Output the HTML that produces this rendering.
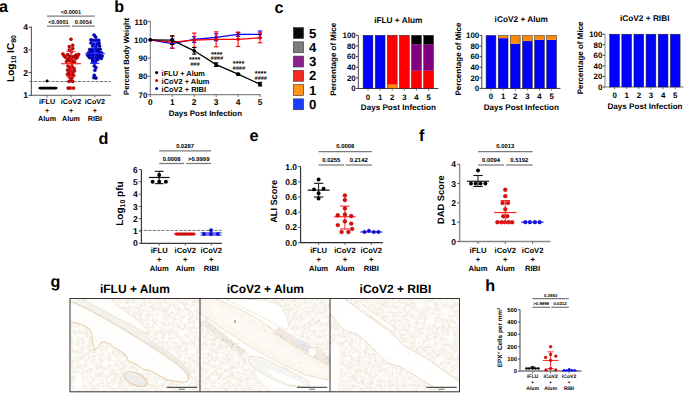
<!DOCTYPE html>
<html><head><meta charset="utf-8"><style>
html,body{margin:0;padding:0;background:#fff;}
body{width:685px;height:393px;overflow:hidden;}
svg{display:block;font-family:"Liberation Sans", sans-serif;text-rendering:geometricPrecision;}
</style></head><body>
<svg width="685" height="393" viewBox="0 0 685 393">
<rect width="685" height="393" fill="#fff"/>
<defs>
<filter id="tex" x="0" y="0" width="100%" height="100%" color-interpolation-filters="sRGB"><feTurbulence type="fractalNoise" baseFrequency="0.45" numOctaves="2" seed="9" result="n"/><feColorMatrix in="n" type="matrix" values="0 0 0 0 0.91  0 0 0 0 0.86  0 0 0 0 0.79  1 0 0 0 0" result="c"/><feComponentTransfer in="c" result="d"><feFuncA type="table" tableValues="0 0 0.12 0.6 0.12 0 0 0"/></feComponentTransfer><feTurbulence type="fractalNoise" baseFrequency="0.26" numOctaves="1" seed="3" result="h"/><feColorMatrix in="h" type="matrix" values="0 0 0 0 1  0 0 0 0 1  0 0 0 0 1  0 1 0 0 0" result="hc"/><feComponentTransfer in="hc" result="holes"><feFuncA type="discrete" tableValues="0 0 0 0.5 0.95 1"/></feComponentTransfer><feFlood flood-color="#fcfaf6" result="bg"/><feMerge result="m"><feMergeNode in="bg"/><feMergeNode in="d"/><feMergeNode in="holes"/></feMerge><feComposite in="m" in2="SourceGraphic" operator="in"/></filter><clipPath id="c1"><rect x="70" y="298.5" width="130" height="93.3"/></clipPath><clipPath id="c2"><rect x="200" y="298.5" width="130" height="93.3"/></clipPath><clipPath id="c3"><rect x="330" y="298.5" width="129.5" height="93.3"/></clipPath></defs>
<g clip-path="url(#c1)">
<rect x="70" y="298.5" width="130" height="93.3" fill="#fefefd"/>
<path d="M111.2,298.5 L116.5,305.0 L131.8,315.2 L141.9,324.1 L148.3,331.7 L148.3,333.6 L151.0,340.0 L162.3,350.0 L175.0,358.5 L183.0,364.0 L189.0,371.0 L191.5,379.0 L190.0,384.0 L186.0,386.0 L192.0,392.0 L200.0,392.0 L200.0,298.5 Z" fill="#fff" filter="url(#tex)"/>
<path d="M70.0,321.0 L77.2,323.5 L83.3,325.0 L89.4,328.8 L91.7,334.2 L92.4,341.8 L94.7,350.2 L98.5,346.4 L100.8,342.6 L104.6,341.8 L110.7,344.9 L115.0,348.0 L124.5,353.7 L129.2,361.5 L135.5,363.9 L143.4,369.4 L151.3,371.0 L159.2,375.7 L167.0,379.7 L175.0,381.3 L181.2,382.0 L186.0,382.0 L180.0,385.5 L184.0,392.0 L70.0,392.0 Z" fill="#fff" filter="url(#tex)"/>
<ellipse cx="182" cy="333" rx="3.5" ry="2.5" fill="#fefefd"/>
<ellipse cx="185" cy="320" rx="2.5" ry="2" fill="#fefefd"/>
<ellipse cx="160" cy="318" rx="2.5" ry="3" fill="#fefefd"/>
<ellipse cx="172" cy="309" rx="2" ry="2" fill="#fefefd"/>
<ellipse cx="150" cy="310" rx="2" ry="1.5" fill="#fefefd"/>
<ellipse cx="78.5" cy="383" rx="4.6" ry="7" fill="#fefefd"/>
<ellipse cx="193" cy="350" rx="3" ry="3.5" fill="#fefefd"/>
<ellipse cx="105" cy="365" rx="2.5" ry="2" fill="#fefefd"/>
<path d="M70.0,301.0 L80.0,305.5 L90.0,310.5 L101.3,316.4 L112.7,322.8 L125.4,330.4 L138.1,338.0 L151.0,346.5 L151.0,341.0 L148.3,333.6 L144.5,332.3 L131.8,325.3 L119.0,319.0 L102.5,310.0 L90.0,303.0 L82.0,298.5 Z" fill="#f5f2ee"/>
<path d="M150.0,342.5 L162.3,350.5 L175.0,359.0 L182.0,364.5 L187.5,371.0 L190.0,378.0" fill="none" stroke="#eeebe7" stroke-width="4.5"/>
<path d="M70.0,301.0 L80.0,305.5 L90.0,310.5 L101.3,316.4 L112.7,322.8 L125.4,330.4 L138.1,338.0 L151.0,346.5 L162.3,354.0 L175.0,362.5 L181.2,367.9 L187.6,374.2 L189.1,378.9 L186.0,382.0" fill="none" stroke="#e3c7a0" stroke-width="0.95"/>
<path d="M148.3,333.6 L144.5,332.3 L131.8,325.3 L119.0,319.0 L102.5,310.0 L90.0,303.0 L82.0,298.5" fill="none" stroke="#ead8bf" stroke-width="0.7"/>
<path d="M111.2,298.5 L116.5,305.0 L131.8,315.2 L141.9,324.1 L148.3,331.7 L148.3,333.6" fill="none" stroke="#ead8bf" stroke-width="0.8"/>
<path d="M70.0,321.0 L77.2,323.5 L83.3,325.0 L89.4,328.8 L91.7,334.2 L92.4,341.8 L94.7,350.2 L98.5,346.4 L100.8,342.6 L104.6,341.8 L110.7,344.9 L115.0,348.0 L124.5,353.7 L129.2,361.5 L135.5,363.9 L143.4,369.4 L151.3,371.0 L159.2,375.7 L167.0,379.7 L175.0,381.3 L181.2,382.0 L186.0,382.0" fill="none" stroke="#e3c7a0" stroke-width="0.95"/>
<ellipse cx="135.5" cy="379" rx="12.3" ry="6" transform="rotate(24 135.5 379)" fill="#efedeb" stroke="#e3c7a0" stroke-width="0.9"/>
</g>
<g clip-path="url(#c2)">
<rect x="200" y="298.5" width="130" height="93.3" fill="#fff"/>
<path d="M262.0,298.5 L330.0,298.5 L330.0,362.0 L319.6,351.0 L305.0,341.0 L292.0,333.0 L289.0,326.0 L286.0,315.0 L279.4,304.6 Z" fill="#fff" filter="url(#tex)"/>
<path d="M200.0,318.0 L210.0,326.0 L230.0,340.0 L250.0,354.0 L262.0,364.0 L255.0,372.0 L262.0,382.0 L272.0,392.0 L200.0,392.0 Z" fill="#fff" filter="url(#tex)"/>
<path d="M200.0,298.5 L215.0,298.5 L240.0,309.0 L258.0,319.0 L272.0,329.0 L286.0,341.0 L305.0,353.0 L330.0,366.0 L330.0,380.4 L305.0,374.9 L277.5,362.1 L252.9,348.3 L230.0,334.0 L210.0,320.0 L200.0,313.0 Z" fill="#fbf6ee"/>
<path d="M214.0,305.0 L236.0,316.0 L256.0,328.0 L276.0,343.0 L300.0,358.0 L328.0,372.0 L328.0,376.0 L300.0,366.0 L272.0,352.0 L250.0,338.0 L228.0,324.0 L210.0,312.0 Z" fill="#fdfaf5"/>
<path d="M232.0,298.5 L265.0,300.0 L279.4,304.6 L286.0,315.0 L289.0,326.0 L287.0,330.0 L279.0,326.0 L262.0,317.0 L242.0,307.0 L226.0,299.5 Z" fill="#fff" stroke="#ead8bf" stroke-width="0.6"/>
<path d="M276.0,330.0 L290.0,338.5 L305.0,347.0 L320.0,356.0 L332.0,363.0" fill="none" stroke="#efe9e2" stroke-width="8"/>
<path d="M203.0,321.0 L216.0,332.0 L230.0,343.0 L244.0,354.0" fill="none" stroke="#f1ebe4" stroke-width="7"/>
<ellipse cx="304" cy="346" rx="9" ry="4.5" transform="rotate(33 304 346)" fill="#e8e7ed"/>
<circle cx="312.3" cy="352" r="4.6" fill="#fff" stroke="#ead8bf" stroke-width="0.6"/>
<path d="M250.0,356.0 L262.0,357.5 L277.5,365.0 L296.0,374.0 L309.0,381.0 L309.0,387.5 L290.0,386.0 L270.0,378.0 L254.0,368.0 L248.0,361.0 Z" fill="#f7f5f3" stroke="#ead8bf" stroke-width="0.7"/>
<path d="M266.0,368.0 L282.0,374.0 L298.0,381.0 L305.0,385.5 L290.0,384.0 L274.0,377.0 Z" fill="#fff"/>
<path d="M215.0,298.5 L240.0,309.0 L258.0,319.0 L272.0,329.0 L286.0,341.0 L305.0,353.0 L330.0,366.0" fill="none" stroke="#ead8bf" stroke-width="0.8"/>
<path d="M330.0,380.4 L305.0,374.9 L277.5,362.1 L252.9,348.3 L230.0,334.0 L210.0,320.0 L200.0,313.0" fill="none" stroke="#ead8bf" stroke-width="0.8"/>
<circle cx="297.6" cy="347.1" r="0.45" fill="#b88a5a" opacity="0.6"/>
<circle cx="222.6" cy="337.1" r="0.45" fill="#b88a5a" opacity="0.6"/>
<circle cx="281.2" cy="334.8" r="0.45" fill="#b88a5a" opacity="0.6"/>
<circle cx="233.5" cy="345.6" r="0.45" fill="#b88a5a" opacity="0.6"/>
<circle cx="277.6" cy="332.0" r="0.45" fill="#b88a5a" opacity="0.6"/>
<circle cx="208.1" cy="326.1" r="0.45" fill="#b88a5a" opacity="0.6"/>
<circle cx="310.0" cy="347.5" r="0.45" fill="#b88a5a" opacity="0.6"/>
<circle cx="203.8" cy="318.0" r="0.45" fill="#b88a5a" opacity="0.6"/>
<circle cx="279.6" cy="329.6" r="0.45" fill="#b88a5a" opacity="0.6"/>
<circle cx="222.1" cy="339.0" r="0.45" fill="#b88a5a" opacity="0.6"/>
<circle cx="302.1" cy="345.7" r="0.45" fill="#b88a5a" opacity="0.6"/>
<circle cx="230.5" cy="341.1" r="0.45" fill="#b88a5a" opacity="0.6"/>
<circle cx="333.3" cy="366.0" r="0.45" fill="#b88a5a" opacity="0.6"/>
<circle cx="231.4" cy="342.2" r="0.45" fill="#b88a5a" opacity="0.6"/>
<circle cx="284.3" cy="339.8" r="0.45" fill="#b88a5a" opacity="0.6"/>
<circle cx="222.2" cy="333.3" r="0.45" fill="#b88a5a" opacity="0.6"/>
<circle cx="329.9" cy="357.0" r="0.45" fill="#b88a5a" opacity="0.6"/>
<circle cx="214.7" cy="327.7" r="0.45" fill="#b88a5a" opacity="0.6"/>
<circle cx="328.1" cy="358.5" r="0.45" fill="#b88a5a" opacity="0.6"/>
<circle cx="231.4" cy="339.9" r="0.45" fill="#b88a5a" opacity="0.6"/>
<circle cx="274.1" cy="334.3" r="0.45" fill="#b88a5a" opacity="0.6"/>
<circle cx="232.2" cy="344.0" r="0.45" fill="#b88a5a" opacity="0.6"/>
<circle cx="273.0" cy="333.3" r="0.45" fill="#b88a5a" opacity="0.6"/>
<circle cx="210.9" cy="326.4" r="0.45" fill="#b88a5a" opacity="0.6"/>
<circle cx="283.1" cy="330.5" r="0.45" fill="#b88a5a" opacity="0.6"/>
<circle cx="227.4" cy="341.6" r="0.45" fill="#b88a5a" opacity="0.6"/>
<circle cx="281.2" cy="338.9" r="0.45" fill="#b88a5a" opacity="0.6"/>
<circle cx="235.4" cy="350.6" r="0.45" fill="#b88a5a" opacity="0.6"/>
<circle cx="281.9" cy="337.8" r="0.45" fill="#b88a5a" opacity="0.6"/>
<circle cx="227.2" cy="346.1" r="0.45" fill="#b88a5a" opacity="0.6"/>
<circle cx="281.1" cy="337.1" r="0.45" fill="#b88a5a" opacity="0.6"/>
<circle cx="215.4" cy="328.4" r="0.45" fill="#b88a5a" opacity="0.6"/>
<circle cx="276.0" cy="327.9" r="0.45" fill="#b88a5a" opacity="0.6"/>
<circle cx="227.4" cy="340.5" r="0.45" fill="#b88a5a" opacity="0.6"/>
<circle cx="327.4" cy="362.2" r="0.45" fill="#b88a5a" opacity="0.6"/>
<circle cx="237.2" cy="346.8" r="0.45" fill="#b88a5a" opacity="0.6"/>
<circle cx="326.7" cy="357.4" r="0.45" fill="#b88a5a" opacity="0.6"/>
<circle cx="212.6" cy="330.8" r="0.45" fill="#b88a5a" opacity="0.6"/>
<circle cx="284.9" cy="337.5" r="0.45" fill="#b88a5a" opacity="0.6"/>
<circle cx="227.8" cy="337.7" r="0.45" fill="#b88a5a" opacity="0.6"/>
<circle cx="275.6" cy="326.0" r="0.45" fill="#b88a5a" opacity="0.6"/>
<circle cx="230.9" cy="346.8" r="0.45" fill="#b88a5a" opacity="0.6"/>
<circle cx="304.3" cy="345.6" r="0.45" fill="#b88a5a" opacity="0.6"/>
<circle cx="230.2" cy="342.6" r="0.45" fill="#b88a5a" opacity="0.6"/>
<circle cx="306.0" cy="348.2" r="0.45" fill="#b88a5a" opacity="0.6"/>
<circle cx="217.7" cy="327.9" r="0.45" fill="#b88a5a" opacity="0.6"/>
<circle cx="269.4" cy="327.1" r="0.45" fill="#b88a5a" opacity="0.6"/>
<circle cx="203.3" cy="321.9" r="0.45" fill="#b88a5a" opacity="0.6"/>
<circle cx="301.8" cy="346.4" r="0.45" fill="#b88a5a" opacity="0.6"/>
<circle cx="243.8" cy="351.7" r="0.45" fill="#b88a5a" opacity="0.6"/>
<circle cx="312.1" cy="348.6" r="0.45" fill="#b88a5a" opacity="0.6"/>
<circle cx="201.1" cy="325.4" r="0.45" fill="#b88a5a" opacity="0.6"/>
<circle cx="315.3" cy="347.9" r="0.45" fill="#b88a5a" opacity="0.6"/>
<circle cx="229.6" cy="343.8" r="0.45" fill="#b88a5a" opacity="0.6"/>
<circle cx="292.6" cy="334.7" r="0.45" fill="#b88a5a" opacity="0.6"/>
<circle cx="227.6" cy="342.2" r="0.45" fill="#b88a5a" opacity="0.6"/>
<circle cx="315.7" cy="356.2" r="0.45" fill="#b88a5a" opacity="0.6"/>
<circle cx="240.4" cy="352.7" r="0.45" fill="#b88a5a" opacity="0.6"/>
<circle cx="326.6" cy="358.7" r="0.45" fill="#b88a5a" opacity="0.6"/>
<circle cx="238.7" cy="347.7" r="0.45" fill="#b88a5a" opacity="0.6"/>
<circle cx="306.7" cy="350.2" r="0.45" fill="#b88a5a" opacity="0.6"/>
<circle cx="225.6" cy="342.2" r="0.45" fill="#b88a5a" opacity="0.6"/>
<circle cx="332.3" cy="364.8" r="0.45" fill="#b88a5a" opacity="0.6"/>
<circle cx="221.0" cy="334.5" r="0.45" fill="#b88a5a" opacity="0.6"/>
<circle cx="298.8" cy="339.1" r="0.45" fill="#b88a5a" opacity="0.6"/>
<circle cx="231.2" cy="346.6" r="0.45" fill="#b88a5a" opacity="0.6"/>
<circle cx="297.0" cy="346.1" r="0.45" fill="#b88a5a" opacity="0.6"/>
<circle cx="224.7" cy="340.8" r="0.45" fill="#b88a5a" opacity="0.6"/>
<circle cx="281.9" cy="334.4" r="0.45" fill="#b88a5a" opacity="0.6"/>
<circle cx="229.4" cy="340.7" r="0.45" fill="#b88a5a" opacity="0.6"/>
<circle cx="325.5" cy="359.1" r="0.45" fill="#b88a5a" opacity="0.6"/>
<circle cx="239.2" cy="351.8" r="0.45" fill="#b88a5a" opacity="0.6"/>
<circle cx="281.4" cy="336.9" r="0.45" fill="#b88a5a" opacity="0.6"/>
<circle cx="244.1" cy="350.2" r="0.45" fill="#b88a5a" opacity="0.6"/>
<circle cx="303.7" cy="344.7" r="0.45" fill="#b88a5a" opacity="0.6"/>
<circle cx="226.2" cy="340.2" r="0.45" fill="#b88a5a" opacity="0.6"/>
<circle cx="315.8" cy="350.6" r="0.45" fill="#b88a5a" opacity="0.6"/>
<circle cx="209.8" cy="324.8" r="0.45" fill="#b88a5a" opacity="0.6"/>
<circle cx="282.2" cy="335.8" r="0.45" fill="#b88a5a" opacity="0.6"/>
<circle cx="222.5" cy="340.0" r="0.45" fill="#b88a5a" opacity="0.6"/>
<circle cx="328.6" cy="358.5" r="0.45" fill="#b88a5a" opacity="0.6"/>
<circle cx="206.9" cy="318.4" r="0.45" fill="#b88a5a" opacity="0.6"/>
<circle cx="313.0" cy="350.8" r="0.45" fill="#b88a5a" opacity="0.6"/>
<circle cx="232.9" cy="344.2" r="0.45" fill="#b88a5a" opacity="0.6"/>
<circle cx="294.0" cy="346.3" r="0.45" fill="#b88a5a" opacity="0.6"/>
<circle cx="210.5" cy="325.2" r="0.45" fill="#b88a5a" opacity="0.6"/>
<circle cx="307.4" cy="350.8" r="0.45" fill="#b88a5a" opacity="0.6"/>
<circle cx="232.7" cy="346.3" r="0.45" fill="#b88a5a" opacity="0.6"/>
<circle cx="309.0" cy="351.4" r="0.45" fill="#b88a5a" opacity="0.6"/>
<circle cx="207.1" cy="326.7" r="0.45" fill="#b88a5a" opacity="0.6"/>
<circle cx="310.6" cy="350.7" r="0.45" fill="#b88a5a" opacity="0.6"/>
<circle cx="218.9" cy="332.6" r="0.45" fill="#b88a5a" opacity="0.6"/>
<circle cx="308.7" cy="348.2" r="0.45" fill="#b88a5a" opacity="0.6"/>
<circle cx="239.1" cy="343.8" r="0.45" fill="#b88a5a" opacity="0.6"/>
<circle cx="327.5" cy="357.2" r="0.45" fill="#b88a5a" opacity="0.6"/>
<circle cx="222.9" cy="339.2" r="0.45" fill="#b88a5a" opacity="0.6"/>
<circle cx="293.1" cy="344.0" r="0.45" fill="#b88a5a" opacity="0.6"/>
<circle cx="239.6" cy="347.0" r="0.45" fill="#b88a5a" opacity="0.6"/>
<circle cx="307.0" cy="352.4" r="0.45" fill="#b88a5a" opacity="0.6"/>
<circle cx="238.4" cy="349.7" r="0.45" fill="#b88a5a" opacity="0.6"/>
<circle cx="285.6" cy="339.0" r="0.45" fill="#b88a5a" opacity="0.6"/>
<circle cx="244.3" cy="355.6" r="0.45" fill="#b88a5a" opacity="0.6"/>
<circle cx="292.1" cy="341.7" r="0.45" fill="#b88a5a" opacity="0.6"/>
<circle cx="214.7" cy="332.0" r="0.45" fill="#b88a5a" opacity="0.6"/>
<circle cx="304.9" cy="346.7" r="0.45" fill="#b88a5a" opacity="0.6"/>
<circle cx="206.4" cy="318.4" r="0.45" fill="#b88a5a" opacity="0.6"/>
<circle cx="315.7" cy="354.3" r="0.45" fill="#b88a5a" opacity="0.6"/>
<circle cx="233.6" cy="344.2" r="0.45" fill="#b88a5a" opacity="0.6"/>
<circle cx="302.6" cy="348.7" r="0.45" fill="#b88a5a" opacity="0.6"/>
<circle cx="235.1" cy="343.7" r="0.45" fill="#b88a5a" opacity="0.6"/>
<circle cx="324.1" cy="358.7" r="0.45" fill="#b88a5a" opacity="0.6"/>
<circle cx="223.7" cy="340.2" r="0.45" fill="#b88a5a" opacity="0.6"/>
<circle cx="308.5" cy="353.1" r="0.45" fill="#b88a5a" opacity="0.6"/>
<circle cx="225.2" cy="338.5" r="0.45" fill="#b88a5a" opacity="0.6"/>
<circle cx="323.5" cy="354.8" r="0.45" fill="#b88a5a" opacity="0.6"/>
<circle cx="242.0" cy="349.3" r="0.45" fill="#b88a5a" opacity="0.6"/>
<circle cx="302.3" cy="348.0" r="0.45" fill="#b88a5a" opacity="0.6"/>
<circle cx="224.9" cy="333.8" r="0.45" fill="#b88a5a" opacity="0.6"/>
<circle cx="328.3" cy="361.0" r="0.45" fill="#b88a5a" opacity="0.6"/>
<circle cx="237.1" cy="347.4" r="0.45" fill="#b88a5a" opacity="0.6"/>
<rect x="234.5" y="320" width="0.9" height="3.2" fill="#9a5a2a"/>
</g>
<g clip-path="url(#c3)">
<rect x="330" y="298.5" width="129.5" height="93.3" fill="#fff"/>
<path d="M344.3,298.5 L459.5,298.5 L459.5,381.7 L442.3,369.8 L425.6,357.8 L404.1,345.8 L389.7,331.5 L365.8,314.7 Z" fill="#fff" filter="url(#tex)"/>
<path d="M330.0,313.0 L339.0,325.0 L346.7,331.5 L356.3,333.9 L365.8,341.0 L387.3,362.6 L401.7,367.4 L420.8,379.3 L435.1,387.7 L442.3,392.0 L330.0,392.0 Z" fill="#fff" filter="url(#tex)"/>
<path d="M330.0,345.0 L336.0,342.0 L340.0,352.0 L339.6,370.0 L338.0,392.0 L330.0,392.0 Z" fill="#fefefd"/>
<ellipse cx="430" cy="322" rx="5" ry="3" fill="#fdfdfc"/>
<ellipse cx="445" cy="312" rx="4" ry="3" fill="#fdfdfc"/>
<ellipse cx="412" cy="330" rx="3" ry="2.5" fill="#fdfdfc"/>
<ellipse cx="450" cy="340" rx="3" ry="4" fill="#fdfdfc"/>
<ellipse cx="420" cy="305" rx="4" ry="2.5" fill="#fdfdfc"/>
<ellipse cx="440" cy="360" rx="4" ry="3" fill="#fdfdfc"/>
<ellipse cx="395" cy="310" rx="3" ry="2" fill="#fdfdfc"/>
<ellipse cx="378" cy="318" rx="2.5" ry="2" fill="#fdfdfc"/>
<path d="M344.3,298.5 L365.8,314.7 L389.7,331.5 L404.1,345.8 L425.6,357.8 L442.3,369.8 L459.5,381.7" fill="none" stroke="#ead8bf" stroke-width="0.9"/>
<path d="M330.0,313.0 L339.0,325.0 L346.7,331.5 L356.3,333.9 L365.8,341.0 L387.3,362.6 L401.7,367.4 L420.8,379.3 L435.1,387.7 L442.3,392.0" fill="none" stroke="#ead8bf" stroke-width="0.9"/>
<path d="M358.7,301.6 L365.8,307.6 L377.8,315.9 L393.3,326.7 L395.7,331.5 L390.9,330.3 L375.4,319.5 L363.5,310.0 L356.3,302.8 Z" fill="#fefefd" stroke="#ead8bf" stroke-width="0.6"/>
</g>
<circle cx="150.5" cy="366.8" r="0.4" fill="#c9a070" opacity="0.7"/>
<circle cx="172.2" cy="384.8" r="0.4" fill="#c9a070" opacity="0.7"/>
<circle cx="165.2" cy="383.0" r="0.4" fill="#c9a070" opacity="0.7"/>
<circle cx="75.7" cy="341.9" r="0.4" fill="#c9a070" opacity="0.7"/>
<circle cx="190.9" cy="358.4" r="0.4" fill="#c9a070" opacity="0.7"/>
<circle cx="185.5" cy="310.2" r="0.4" fill="#c9a070" opacity="0.7"/>
<circle cx="131.1" cy="322.2" r="0.4" fill="#c9a070" opacity="0.7"/>
<circle cx="140.5" cy="351.7" r="0.4" fill="#c9a070" opacity="0.7"/>
<circle cx="73.7" cy="319.5" r="0.4" fill="#c9a070" opacity="0.7"/>
<circle cx="107.2" cy="382.5" r="0.4" fill="#c9a070" opacity="0.7"/>
<circle cx="168.5" cy="314.4" r="0.4" fill="#c9a070" opacity="0.7"/>
<circle cx="172.4" cy="312.5" r="0.4" fill="#c9a070" opacity="0.7"/>
<circle cx="149.8" cy="311.4" r="0.4" fill="#c9a070" opacity="0.7"/>
<circle cx="72.2" cy="378.4" r="0.4" fill="#c9a070" opacity="0.7"/>
<circle cx="98.4" cy="319.4" r="0.4" fill="#c9a070" opacity="0.7"/>
<circle cx="195.8" cy="378.5" r="0.4" fill="#c9a070" opacity="0.7"/>
<circle cx="108.5" cy="386.5" r="0.4" fill="#c9a070" opacity="0.7"/>
<circle cx="139.9" cy="361.0" r="0.4" fill="#c9a070" opacity="0.7"/>
<circle cx="97.8" cy="384.7" r="0.4" fill="#c9a070" opacity="0.7"/>
<circle cx="159.0" cy="387.0" r="0.4" fill="#c9a070" opacity="0.7"/>
<circle cx="184.6" cy="326.9" r="0.4" fill="#c9a070" opacity="0.7"/>
<circle cx="117.5" cy="314.9" r="0.4" fill="#c9a070" opacity="0.7"/>
<circle cx="90.4" cy="305.9" r="0.4" fill="#c9a070" opacity="0.7"/>
<circle cx="110.0" cy="354.3" r="0.4" fill="#c9a070" opacity="0.7"/>
<circle cx="72.4" cy="361.0" r="0.4" fill="#c9a070" opacity="0.7"/>
<circle cx="114.6" cy="327.9" r="0.4" fill="#c9a070" opacity="0.7"/>
<circle cx="175.1" cy="343.3" r="0.4" fill="#c9a070" opacity="0.7"/>
<circle cx="111.8" cy="343.3" r="0.4" fill="#c9a070" opacity="0.7"/>
<circle cx="160.8" cy="305.1" r="0.4" fill="#c9a070" opacity="0.7"/>
<circle cx="194.9" cy="302.1" r="0.4" fill="#c9a070" opacity="0.7"/>
<circle cx="166.5" cy="376.0" r="0.4" fill="#c9a070" opacity="0.7"/>
<circle cx="74.3" cy="370.9" r="0.4" fill="#c9a070" opacity="0.7"/>
<circle cx="118.1" cy="352.1" r="0.4" fill="#c9a070" opacity="0.7"/>
<circle cx="73.1" cy="304.2" r="0.4" fill="#c9a070" opacity="0.7"/>
<circle cx="94.8" cy="386.0" r="0.4" fill="#c9a070" opacity="0.7"/>
<circle cx="96.8" cy="368.0" r="0.4" fill="#c9a070" opacity="0.7"/>
<circle cx="189.1" cy="384.8" r="0.4" fill="#c9a070" opacity="0.7"/>
<circle cx="115.4" cy="331.9" r="0.4" fill="#c9a070" opacity="0.7"/>
<circle cx="138.1" cy="369.8" r="0.4" fill="#c9a070" opacity="0.7"/>
<circle cx="85.6" cy="367.4" r="0.4" fill="#c9a070" opacity="0.7"/>
<circle cx="302.5" cy="377.4" r="0.4" fill="#c9a070" opacity="0.7"/>
<circle cx="206.6" cy="385.1" r="0.4" fill="#c9a070" opacity="0.7"/>
<circle cx="213.5" cy="330.7" r="0.4" fill="#c9a070" opacity="0.7"/>
<circle cx="279.0" cy="382.6" r="0.4" fill="#c9a070" opacity="0.7"/>
<circle cx="244.8" cy="383.2" r="0.4" fill="#c9a070" opacity="0.7"/>
<circle cx="270.7" cy="328.1" r="0.4" fill="#c9a070" opacity="0.7"/>
<circle cx="241.9" cy="316.0" r="0.4" fill="#c9a070" opacity="0.7"/>
<circle cx="211.9" cy="313.4" r="0.4" fill="#c9a070" opacity="0.7"/>
<circle cx="288.8" cy="389.7" r="0.4" fill="#c9a070" opacity="0.7"/>
<circle cx="222.4" cy="304.4" r="0.4" fill="#c9a070" opacity="0.7"/>
<circle cx="326.3" cy="348.0" r="0.4" fill="#c9a070" opacity="0.7"/>
<circle cx="253.1" cy="321.4" r="0.4" fill="#c9a070" opacity="0.7"/>
<circle cx="276.8" cy="374.4" r="0.4" fill="#c9a070" opacity="0.7"/>
<circle cx="259.4" cy="338.0" r="0.4" fill="#c9a070" opacity="0.7"/>
<circle cx="209.0" cy="382.4" r="0.4" fill="#c9a070" opacity="0.7"/>
<circle cx="206.1" cy="344.4" r="0.4" fill="#c9a070" opacity="0.7"/>
<circle cx="307.6" cy="311.8" r="0.4" fill="#c9a070" opacity="0.7"/>
<circle cx="294.2" cy="385.5" r="0.4" fill="#c9a070" opacity="0.7"/>
<circle cx="281.4" cy="370.9" r="0.4" fill="#c9a070" opacity="0.7"/>
<circle cx="215.4" cy="339.1" r="0.4" fill="#c9a070" opacity="0.7"/>
<circle cx="220.8" cy="376.0" r="0.4" fill="#c9a070" opacity="0.7"/>
<circle cx="239.1" cy="340.8" r="0.4" fill="#c9a070" opacity="0.7"/>
<circle cx="327.9" cy="376.7" r="0.4" fill="#c9a070" opacity="0.7"/>
<circle cx="325.0" cy="340.8" r="0.4" fill="#c9a070" opacity="0.7"/>
<circle cx="263.5" cy="365.7" r="0.4" fill="#c9a070" opacity="0.7"/>
<circle cx="262.4" cy="326.2" r="0.4" fill="#c9a070" opacity="0.7"/>
<circle cx="252.9" cy="313.2" r="0.4" fill="#c9a070" opacity="0.7"/>
<circle cx="249.5" cy="389.0" r="0.4" fill="#c9a070" opacity="0.7"/>
<circle cx="322.9" cy="356.4" r="0.4" fill="#c9a070" opacity="0.7"/>
<circle cx="264.9" cy="330.5" r="0.4" fill="#c9a070" opacity="0.7"/>
<circle cx="213.2" cy="324.5" r="0.4" fill="#c9a070" opacity="0.7"/>
<circle cx="300.5" cy="378.1" r="0.4" fill="#c9a070" opacity="0.7"/>
<circle cx="247.5" cy="370.7" r="0.4" fill="#c9a070" opacity="0.7"/>
<circle cx="299.6" cy="362.5" r="0.4" fill="#c9a070" opacity="0.7"/>
<circle cx="285.7" cy="368.4" r="0.4" fill="#c9a070" opacity="0.7"/>
<circle cx="247.8" cy="363.4" r="0.4" fill="#c9a070" opacity="0.7"/>
<circle cx="237.4" cy="343.7" r="0.4" fill="#c9a070" opacity="0.7"/>
<circle cx="299.0" cy="362.2" r="0.4" fill="#c9a070" opacity="0.7"/>
<circle cx="239.0" cy="385.1" r="0.4" fill="#c9a070" opacity="0.7"/>
<circle cx="283.9" cy="352.3" r="0.4" fill="#c9a070" opacity="0.7"/>
<circle cx="333.5" cy="349.2" r="0.4" fill="#c9a070" opacity="0.7"/>
<circle cx="363.5" cy="360.4" r="0.4" fill="#c9a070" opacity="0.7"/>
<circle cx="390.1" cy="373.5" r="0.4" fill="#c9a070" opacity="0.7"/>
<circle cx="413.3" cy="371.8" r="0.4" fill="#c9a070" opacity="0.7"/>
<circle cx="375.7" cy="358.0" r="0.4" fill="#c9a070" opacity="0.7"/>
<circle cx="424.6" cy="374.5" r="0.4" fill="#c9a070" opacity="0.7"/>
<circle cx="375.9" cy="375.9" r="0.4" fill="#c9a070" opacity="0.7"/>
<circle cx="441.2" cy="362.0" r="0.4" fill="#c9a070" opacity="0.7"/>
<circle cx="454.5" cy="386.1" r="0.4" fill="#c9a070" opacity="0.7"/>
<circle cx="397.0" cy="347.6" r="0.4" fill="#c9a070" opacity="0.7"/>
<circle cx="352.9" cy="375.3" r="0.4" fill="#c9a070" opacity="0.7"/>
<circle cx="449.6" cy="343.0" r="0.4" fill="#c9a070" opacity="0.7"/>
<circle cx="418.8" cy="364.8" r="0.4" fill="#c9a070" opacity="0.7"/>
<circle cx="423.7" cy="315.5" r="0.4" fill="#c9a070" opacity="0.7"/>
<circle cx="429.9" cy="352.3" r="0.4" fill="#c9a070" opacity="0.7"/>
<circle cx="415.5" cy="337.9" r="0.4" fill="#c9a070" opacity="0.7"/>
<circle cx="410.3" cy="369.7" r="0.4" fill="#c9a070" opacity="0.7"/>
<circle cx="411.9" cy="364.8" r="0.4" fill="#c9a070" opacity="0.7"/>
<circle cx="335.5" cy="314.4" r="0.4" fill="#c9a070" opacity="0.7"/>
<circle cx="387.4" cy="358.5" r="0.4" fill="#c9a070" opacity="0.7"/>
<circle cx="359.5" cy="361.7" r="0.4" fill="#c9a070" opacity="0.7"/>
<circle cx="411.2" cy="303.8" r="0.4" fill="#c9a070" opacity="0.7"/>
<circle cx="391.2" cy="320.4" r="0.4" fill="#c9a070" opacity="0.7"/>
<circle cx="338.8" cy="312.0" r="0.4" fill="#c9a070" opacity="0.7"/>
<circle cx="371.8" cy="316.3" r="0.4" fill="#c9a070" opacity="0.7"/>
<circle cx="356.3" cy="303.2" r="0.4" fill="#c9a070" opacity="0.7"/>
<circle cx="390.4" cy="334.2" r="0.4" fill="#c9a070" opacity="0.7"/>
<circle cx="408.8" cy="353.1" r="0.4" fill="#c9a070" opacity="0.7"/>
<circle cx="361.8" cy="381.3" r="0.4" fill="#c9a070" opacity="0.7"/>
<circle cx="332.1" cy="336.5" r="0.4" fill="#c9a070" opacity="0.7"/>
<circle cx="367.0" cy="336.9" r="0.4" fill="#c9a070" opacity="0.7"/>
<circle cx="346.4" cy="374.8" r="0.4" fill="#c9a070" opacity="0.7"/>
<circle cx="378.9" cy="303.2" r="0.4" fill="#c9a070" opacity="0.7"/>
<circle cx="409.0" cy="308.5" r="0.4" fill="#c9a070" opacity="0.7"/>
<circle cx="400.4" cy="330.5" r="0.4" fill="#c9a070" opacity="0.7"/>
<circle cx="404.9" cy="386.2" r="0.4" fill="#c9a070" opacity="0.7"/>
<circle cx="434.7" cy="337.7" r="0.4" fill="#c9a070" opacity="0.7"/>
<circle cx="434.0" cy="357.8" r="0.4" fill="#c9a070" opacity="0.7"/>
<circle cx="378.4" cy="312.8" r="0.4" fill="#c9a070" opacity="0.7"/>
<circle cx="406.8" cy="350.7" r="0.4" fill="#c9a070" opacity="0.7"/>
<rect x="70" y="298.5" width="389.5" height="93.3" fill="none" stroke="#333" stroke-width="1"/>
<line x1="200" y1="298.5" x2="200" y2="391.8" stroke="#333" stroke-width="1"/>
<line x1="330" y1="298.5" x2="330" y2="391.8" stroke="#333" stroke-width="1"/>
<line x1="166.8" y1="387.3" x2="197.3" y2="387.3" stroke="#111" stroke-width="0.9"/>
<rect x="179.05" y="388.6" width="6" height="1.2" fill="#888"/>
<line x1="297" y1="387.3" x2="327.3" y2="387.3" stroke="#111" stroke-width="0.9"/>
<rect x="309.15" y="388.6" width="6" height="1.2" fill="#888"/>
<line x1="426.5" y1="387.3" x2="456.8" y2="387.3" stroke="#111" stroke-width="0.9"/>
<rect x="438.65" y="388.6" width="6" height="1.2" fill="#888"/>
<text x="-1" y="12.1" font-size="16.2" text-anchor="start" fill="#000" font-weight="bold">a</text>
<text x="114.3" y="12.1" font-size="16.2" text-anchor="start" fill="#000" font-weight="bold">b</text>
<text x="274.5" y="12.8" font-size="16.2" text-anchor="start" fill="#000" font-weight="bold">c</text>
<text x="98.4" y="144" font-size="16.2" text-anchor="start" fill="#000" font-weight="bold">d</text>
<text x="249.6" y="140.9" font-size="16.2" text-anchor="start" fill="#000" font-weight="bold">e</text>
<text x="418.9" y="140.9" font-size="16.2" text-anchor="start" fill="#000" font-weight="bold">f</text>
<text x="50.6" y="287" font-size="16.2" text-anchor="start" fill="#000" font-weight="bold">g</text>
<text x="485.2" y="290.6" font-size="16.2" text-anchor="start" fill="#000" font-weight="bold">h</text>
<line x1="31.4" y1="26.6" x2="31.4" y2="95.8" stroke="#5a5a5a" stroke-width="1.1"/>
<line x1="30.9" y1="95.2" x2="111.1" y2="95.2" stroke="#5a5a5a" stroke-width="1.1"/>
<line x1="28.6" y1="95.3" x2="31.4" y2="95.3" stroke="#444" stroke-width="1"/>
<text x="28" y="98.3" font-size="8.5" text-anchor="end" fill="#000" font-weight="bold">1</text>
<line x1="28.6" y1="72.6" x2="31.4" y2="72.6" stroke="#444" stroke-width="1"/>
<text x="28" y="75.6" font-size="8.5" text-anchor="end" fill="#000" font-weight="bold">2</text>
<line x1="28.6" y1="49.9" x2="31.4" y2="49.9" stroke="#444" stroke-width="1"/>
<text x="28" y="52.9" font-size="8.5" text-anchor="end" fill="#000" font-weight="bold">3</text>
<line x1="28.6" y1="27.2" x2="31.4" y2="27.2" stroke="#444" stroke-width="1"/>
<text x="28" y="30.2" font-size="8.5" text-anchor="end" fill="#000" font-weight="bold">4</text>
<line x1="47" y1="95.2" x2="47" y2="97.6" stroke="#555" stroke-width="0.9"/>
<line x1="71" y1="95.2" x2="71" y2="97.6" stroke="#555" stroke-width="0.9"/>
<line x1="94.8" y1="95.2" x2="94.8" y2="97.6" stroke="#555" stroke-width="0.9"/>
<line x1="29.5" y1="81.5" x2="111" y2="81.5" stroke="#555" stroke-width="0.8" stroke-dasharray="3.2 1.2"/>
<text x="0" y="0" font-size="10.1" font-weight="bold" text-anchor="middle" transform="translate(14.0 58.5) rotate(-90)">Log<tspan font-size="7.0" dy="1.7">10</tspan><tspan dy="-1.7"> IC</tspan><tspan font-size="7.0" dy="1.7">80</tspan></text>
<text x="47.1" y="104.3" font-size="7.2" text-anchor="middle" fill="#000" font-weight="bold">iFLU</text>
<text x="47.1" y="112.6" font-size="7.2" text-anchor="middle" fill="#000" font-weight="bold">+</text>
<text x="47.1" y="120.6" font-size="7.2" text-anchor="middle" fill="#000" font-weight="bold">Alum</text>
<text x="71" y="104.3" font-size="7.2" text-anchor="middle" fill="#000" font-weight="bold">iCoV2</text>
<text x="71" y="112.6" font-size="7.2" text-anchor="middle" fill="#000" font-weight="bold">+</text>
<text x="71" y="120.6" font-size="7.2" text-anchor="middle" fill="#000" font-weight="bold">Alum</text>
<text x="94.9" y="104.3" font-size="7.2" text-anchor="middle" fill="#000" font-weight="bold">iCoV2</text>
<text x="94.9" y="112.6" font-size="7.2" text-anchor="middle" fill="#000" font-weight="bold">+</text>
<text x="94.9" y="120.6" font-size="7.2" text-anchor="middle" fill="#000" font-weight="bold">RIBI</text>
<line x1="40" y1="88.1" x2="56" y2="88.1" stroke="#000" stroke-width="2.7" stroke-linecap="round"/>
<line x1="38.4" y1="88.1" x2="57.4" y2="88.1" stroke="#000" stroke-width="1"/>
<circle cx="47.1" cy="81" r="1.45" fill="#000" stroke="none" stroke-width="0"/>
<circle cx="71" cy="39.2" r="1.55" fill="#dd0000" stroke="#7a0000" stroke-width="0.5"/>
<circle cx="72.7" cy="45.3" r="1.55" fill="#dd0000" stroke="#7a0000" stroke-width="0.5"/>
<circle cx="69.3" cy="46.6" r="1.55" fill="#dd0000" stroke="#7a0000" stroke-width="0.5"/>
<circle cx="72.7" cy="48.5" r="1.55" fill="#dd0000" stroke="#7a0000" stroke-width="0.5"/>
<circle cx="69.3" cy="50" r="1.55" fill="#dd0000" stroke="#7a0000" stroke-width="0.5"/>
<circle cx="71.4" cy="51.9" r="1.55" fill="#dd0000" stroke="#7a0000" stroke-width="0.5"/>
<circle cx="67.5" cy="54.6" r="1.55" fill="#dd0000" stroke="#7a0000" stroke-width="0.5"/>
<circle cx="75.9" cy="55" r="1.55" fill="#dd0000" stroke="#7a0000" stroke-width="0.5"/>
<circle cx="64.1" cy="55.8" r="1.55" fill="#dd0000" stroke="#7a0000" stroke-width="0.5"/>
<circle cx="65.6" cy="57.3" r="1.55" fill="#dd0000" stroke="#7a0000" stroke-width="0.5"/>
<circle cx="69.5" cy="56.1" r="1.55" fill="#dd0000" stroke="#7a0000" stroke-width="0.5"/>
<circle cx="72.1" cy="56.5" r="1.55" fill="#dd0000" stroke="#7a0000" stroke-width="0.5"/>
<circle cx="74" cy="56.9" r="1.55" fill="#dd0000" stroke="#7a0000" stroke-width="0.5"/>
<circle cx="77.5" cy="56.9" r="1.55" fill="#dd0000" stroke="#7a0000" stroke-width="0.5"/>
<circle cx="75.9" cy="58.4" r="1.55" fill="#dd0000" stroke="#7a0000" stroke-width="0.5"/>
<circle cx="67.9" cy="59.2" r="1.55" fill="#dd0000" stroke="#7a0000" stroke-width="0.5"/>
<circle cx="70.2" cy="58.4" r="1.55" fill="#dd0000" stroke="#7a0000" stroke-width="0.5"/>
<circle cx="69.5" cy="60.9" r="1.55" fill="#dd0000" stroke="#7a0000" stroke-width="0.5"/>
<circle cx="72.1" cy="60" r="1.55" fill="#dd0000" stroke="#7a0000" stroke-width="0.5"/>
<circle cx="72.1" cy="63" r="1.55" fill="#dd0000" stroke="#7a0000" stroke-width="0.5"/>
<circle cx="66.5" cy="61.5" r="1.55" fill="#dd0000" stroke="#7a0000" stroke-width="0.5"/>
<circle cx="74.5" cy="61.8" r="1.55" fill="#dd0000" stroke="#7a0000" stroke-width="0.5"/>
<circle cx="78.6" cy="54.4" r="1.55" fill="#dd0000" stroke="#7a0000" stroke-width="0.5"/>
<circle cx="62.9" cy="54" r="1.55" fill="#dd0000" stroke="#7a0000" stroke-width="0.5"/>
<circle cx="68" cy="66" r="1.55" fill="#dd0000" stroke="#7a0000" stroke-width="0.5"/>
<circle cx="72" cy="66.5" r="1.55" fill="#dd0000" stroke="#7a0000" stroke-width="0.5"/>
<circle cx="70" cy="68" r="1.55" fill="#dd0000" stroke="#7a0000" stroke-width="0.5"/>
<circle cx="74" cy="68.5" r="1.55" fill="#dd0000" stroke="#7a0000" stroke-width="0.5"/>
<circle cx="67.5" cy="70" r="1.55" fill="#dd0000" stroke="#7a0000" stroke-width="0.5"/>
<circle cx="71" cy="70.5" r="1.55" fill="#dd0000" stroke="#7a0000" stroke-width="0.5"/>
<circle cx="74.5" cy="71" r="1.55" fill="#dd0000" stroke="#7a0000" stroke-width="0.5"/>
<circle cx="69" cy="72.5" r="1.55" fill="#dd0000" stroke="#7a0000" stroke-width="0.5"/>
<circle cx="72.5" cy="73" r="1.55" fill="#dd0000" stroke="#7a0000" stroke-width="0.5"/>
<circle cx="67.5" cy="74.2" r="1.55" fill="#dd0000" stroke="#7a0000" stroke-width="0.5"/>
<circle cx="70.5" cy="75" r="1.55" fill="#dd0000" stroke="#7a0000" stroke-width="0.5"/>
<circle cx="73.5" cy="75.2" r="1.55" fill="#dd0000" stroke="#7a0000" stroke-width="0.5"/>
<circle cx="69.5" cy="77" r="1.55" fill="#dd0000" stroke="#7a0000" stroke-width="0.5"/>
<circle cx="72" cy="77.6" r="1.55" fill="#dd0000" stroke="#7a0000" stroke-width="0.5"/>
<circle cx="71" cy="79.9" r="1.55" fill="#dd0000" stroke="#7a0000" stroke-width="0.5"/>
<circle cx="69" cy="81.4" r="1.55" fill="#dd0000" stroke="#7a0000" stroke-width="0.5"/>
<circle cx="72.7" cy="81.4" r="1.55" fill="#dd0000" stroke="#7a0000" stroke-width="0.5"/>
<circle cx="68.2" cy="88.1" r="1.55" fill="#dd0000" stroke="#7a0000" stroke-width="0.5"/>
<circle cx="70.2" cy="88.1" r="1.55" fill="#dd0000" stroke="#7a0000" stroke-width="0.5"/>
<circle cx="73.5" cy="88.1" r="1.55" fill="#dd0000" stroke="#7a0000" stroke-width="0.5"/>
<line x1="61.2" y1="63.7" x2="80.9" y2="63.7" stroke="#ff2020" stroke-width="1.2"/>
<line x1="71" y1="51.4" x2="71" y2="76.6" stroke="#ff2020" stroke-width="1"/>
<line x1="66.5" y1="51.4" x2="75.3" y2="51.4" stroke="#ff3030" stroke-width="1.1"/>
<line x1="66.5" y1="76.6" x2="75.4" y2="76.6" stroke="#ff2020" stroke-width="1.1"/>
<circle cx="94.1" cy="35.1" r="1.55" fill="#0000dd" stroke="#00006a" stroke-width="0.5"/>
<circle cx="95.7" cy="37.1" r="1.55" fill="#0000dd" stroke="#00006a" stroke-width="0.5"/>
<circle cx="91" cy="39.8" r="1.55" fill="#0000dd" stroke="#00006a" stroke-width="0.5"/>
<circle cx="93.3" cy="40.4" r="1.55" fill="#0000dd" stroke="#00006a" stroke-width="0.5"/>
<circle cx="96.3" cy="40.4" r="1.55" fill="#0000dd" stroke="#00006a" stroke-width="0.5"/>
<circle cx="98.7" cy="40.2" r="1.55" fill="#0000dd" stroke="#00006a" stroke-width="0.5"/>
<circle cx="91" cy="43" r="1.55" fill="#0000dd" stroke="#00006a" stroke-width="0.5"/>
<circle cx="93.8" cy="44.3" r="1.55" fill="#0000dd" stroke="#00006a" stroke-width="0.5"/>
<circle cx="97.1" cy="43.9" r="1.55" fill="#0000dd" stroke="#00006a" stroke-width="0.5"/>
<circle cx="99.1" cy="43.2" r="1.55" fill="#0000dd" stroke="#00006a" stroke-width="0.5"/>
<circle cx="92.6" cy="46.1" r="1.55" fill="#0000dd" stroke="#00006a" stroke-width="0.5"/>
<circle cx="99.5" cy="46.1" r="1.55" fill="#0000dd" stroke="#00006a" stroke-width="0.5"/>
<circle cx="95.9" cy="46.7" r="1.55" fill="#0000dd" stroke="#00006a" stroke-width="0.5"/>
<circle cx="89.7" cy="49.6" r="1.55" fill="#0000dd" stroke="#00006a" stroke-width="0.5"/>
<circle cx="92.2" cy="49.6" r="1.55" fill="#0000dd" stroke="#00006a" stroke-width="0.5"/>
<circle cx="95" cy="49.2" r="1.55" fill="#0000dd" stroke="#00006a" stroke-width="0.5"/>
<circle cx="97.9" cy="49.6" r="1.55" fill="#0000dd" stroke="#00006a" stroke-width="0.5"/>
<circle cx="100.2" cy="49.2" r="1.55" fill="#0000dd" stroke="#00006a" stroke-width="0.5"/>
<circle cx="91" cy="51.8" r="1.55" fill="#0000dd" stroke="#00006a" stroke-width="0.5"/>
<circle cx="93.4" cy="52.2" r="1.55" fill="#0000dd" stroke="#00006a" stroke-width="0.5"/>
<circle cx="96.7" cy="51.2" r="1.55" fill="#0000dd" stroke="#00006a" stroke-width="0.5"/>
<circle cx="99.1" cy="52.2" r="1.55" fill="#0000dd" stroke="#00006a" stroke-width="0.5"/>
<circle cx="87.7" cy="55.3" r="1.55" fill="#0000dd" stroke="#00006a" stroke-width="0.5"/>
<circle cx="90.1" cy="54.9" r="1.55" fill="#0000dd" stroke="#00006a" stroke-width="0.5"/>
<circle cx="92.6" cy="54.4" r="1.55" fill="#0000dd" stroke="#00006a" stroke-width="0.5"/>
<circle cx="95" cy="55.3" r="1.55" fill="#0000dd" stroke="#00006a" stroke-width="0.5"/>
<circle cx="97.5" cy="54.9" r="1.55" fill="#0000dd" stroke="#00006a" stroke-width="0.5"/>
<circle cx="99.9" cy="55.3" r="1.55" fill="#0000dd" stroke="#00006a" stroke-width="0.5"/>
<circle cx="102.2" cy="56.1" r="1.55" fill="#0000dd" stroke="#00006a" stroke-width="0.5"/>
<circle cx="89.3" cy="57.5" r="1.55" fill="#0000dd" stroke="#00006a" stroke-width="0.5"/>
<circle cx="91.8" cy="57.9" r="1.55" fill="#0000dd" stroke="#00006a" stroke-width="0.5"/>
<circle cx="94.2" cy="57.3" r="1.55" fill="#0000dd" stroke="#00006a" stroke-width="0.5"/>
<circle cx="96.7" cy="57.9" r="1.55" fill="#0000dd" stroke="#00006a" stroke-width="0.5"/>
<circle cx="99.1" cy="57.3" r="1.55" fill="#0000dd" stroke="#00006a" stroke-width="0.5"/>
<circle cx="101.2" cy="58.4" r="1.55" fill="#0000dd" stroke="#00006a" stroke-width="0.5"/>
<circle cx="88.5" cy="52.9" r="1.55" fill="#0000dd" stroke="#00006a" stroke-width="0.5"/>
<circle cx="101.5" cy="52.8" r="1.55" fill="#0000dd" stroke="#00006a" stroke-width="0.5"/>
<circle cx="92.6" cy="60.2" r="1.55" fill="#0000dd" stroke="#00006a" stroke-width="0.5"/>
<circle cx="95.3" cy="60.6" r="1.55" fill="#0000dd" stroke="#00006a" stroke-width="0.5"/>
<circle cx="97.8" cy="59.6" r="1.55" fill="#0000dd" stroke="#00006a" stroke-width="0.5"/>
<circle cx="93" cy="62.2" r="1.55" fill="#0000dd" stroke="#00006a" stroke-width="0.5"/>
<circle cx="95.4" cy="62.6" r="1.55" fill="#0000dd" stroke="#00006a" stroke-width="0.5"/>
<circle cx="94.3" cy="65.9" r="1.55" fill="#0000dd" stroke="#00006a" stroke-width="0.5"/>
<circle cx="95.9" cy="67.5" r="1.55" fill="#0000dd" stroke="#00006a" stroke-width="0.5"/>
<circle cx="94.9" cy="70.3" r="1.55" fill="#0000dd" stroke="#00006a" stroke-width="0.5"/>
<circle cx="94.3" cy="75.2" r="1.55" fill="#0000dd" stroke="#00006a" stroke-width="0.5"/>
<circle cx="93.9" cy="77.6" r="1.55" fill="#0000dd" stroke="#00006a" stroke-width="0.5"/>
<circle cx="95.9" cy="78" r="1.55" fill="#0000dd" stroke="#00006a" stroke-width="0.5"/>
<line x1="85.3" y1="53.5" x2="104.8" y2="53.5" stroke="#2a2aff" stroke-width="1.2"/>
<line x1="94.8" y1="42.2" x2="94.8" y2="63.3" stroke="#2a2aff" stroke-width="1"/>
<line x1="92" y1="42.2" x2="97.4" y2="42.2" stroke="#3a3aff" stroke-width="1.1"/>
<line x1="90" y1="63.3" x2="99.4" y2="63.3" stroke="#2a2aff" stroke-width="1.1"/>
<line x1="47" y1="16.2" x2="94.8" y2="16.2" stroke="#7c7c7c" stroke-width="1.25"/>
<text x="70.9" y="13.6" font-size="5.6" text-anchor="middle" fill="#000" font-weight="bold">&lt;0.0001</text>
<line x1="47" y1="26.1" x2="70" y2="26.1" stroke="#7c7c7c" stroke-width="1.25"/>
<text x="58.5" y="23.6" font-size="5.6" text-anchor="middle" fill="#000" font-weight="bold">&lt;0.0001</text>
<line x1="72" y1="26.1" x2="94.8" y2="26.1" stroke="#7c7c7c" stroke-width="1.25"/>
<text x="83.4" y="23.6" font-size="5.6" text-anchor="middle" fill="#000" font-weight="bold">0.0054</text>
<line x1="150.3" y1="20.6" x2="150.3" y2="95.1" stroke="#858585" stroke-width="1.05"/>
<line x1="149.8" y1="94.6" x2="260.6" y2="94.6" stroke="#858585" stroke-width="1.05"/>
<line x1="147.8" y1="94.6" x2="150.3" y2="94.6" stroke="#666" stroke-width="1"/>
<text x="147.4" y="97.5" font-size="8" text-anchor="end" fill="#000" font-weight="bold">70</text>
<line x1="147.8" y1="76.35" x2="150.3" y2="76.35" stroke="#666" stroke-width="1"/>
<text x="147.4" y="79.25" font-size="8" text-anchor="end" fill="#000" font-weight="bold">80</text>
<line x1="147.8" y1="58.1" x2="150.3" y2="58.1" stroke="#666" stroke-width="1"/>
<text x="147.4" y="61" font-size="8" text-anchor="end" fill="#000" font-weight="bold">90</text>
<line x1="147.8" y1="39.85" x2="150.3" y2="39.85" stroke="#666" stroke-width="1"/>
<text x="147.4" y="42.75" font-size="8" text-anchor="end" fill="#000" font-weight="bold">100</text>
<line x1="147.8" y1="21.6" x2="150.3" y2="21.6" stroke="#666" stroke-width="1"/>
<text x="147.4" y="24.5" font-size="8" text-anchor="end" fill="#000" font-weight="bold">110</text>
<line x1="150.3" y1="94.6" x2="150.3" y2="97" stroke="#666" stroke-width="0.9"/>
<text x="150.3" y="105" font-size="8.4" text-anchor="middle" fill="#000" font-weight="bold">0</text>
<line x1="172.25" y1="94.6" x2="172.25" y2="97" stroke="#666" stroke-width="0.9"/>
<text x="172.25" y="105" font-size="8.4" text-anchor="middle" fill="#000" font-weight="bold">1</text>
<line x1="194.2" y1="94.6" x2="194.2" y2="97" stroke="#666" stroke-width="0.9"/>
<text x="194.2" y="105" font-size="8.4" text-anchor="middle" fill="#000" font-weight="bold">2</text>
<line x1="216.15" y1="94.6" x2="216.15" y2="97" stroke="#666" stroke-width="0.9"/>
<text x="216.15" y="105" font-size="8.4" text-anchor="middle" fill="#000" font-weight="bold">3</text>
<line x1="238.1" y1="94.6" x2="238.1" y2="97" stroke="#666" stroke-width="0.9"/>
<text x="238.1" y="105" font-size="8.4" text-anchor="middle" fill="#000" font-weight="bold">4</text>
<line x1="260.05" y1="94.6" x2="260.05" y2="97" stroke="#666" stroke-width="0.9"/>
<text x="260.05" y="105" font-size="8.4" text-anchor="middle" fill="#000" font-weight="bold">5</text>
<text x="205.4" y="115.6" font-size="7.9" text-anchor="middle" fill="#000" font-weight="bold">Days Post Infection</text>
<text x="129.2" y="56.4" font-size="7.7" text-anchor="middle" fill="#000" font-weight="bold" transform="rotate(-90 129.2 56.4)">Percent Body Weight</text>
<polyline points="150.3,39.85 172.25,43.68 194.2,39.48 216.15,37.29 238.1,34.37 260.05,34.37" fill="none" stroke="#00f" stroke-width="1.3"/>
<circle cx="150.3" cy="39.85" r="1.7" fill="#00c" stroke="none" stroke-width="0"/>
<line x1="172.25" y1="39.12" x2="172.25" y2="48.24" stroke="#00f" stroke-width="1"/>
<line x1="170.05" y1="39.12" x2="174.45" y2="39.12" stroke="#00f" stroke-width="1.1"/>
<line x1="170.05" y1="48.24" x2="174.45" y2="48.24" stroke="#00f" stroke-width="1.1"/>
<circle cx="172.25" cy="43.68" r="1.7" fill="#00c" stroke="none" stroke-width="0"/>
<line x1="194.2" y1="36.66" x2="194.2" y2="42.31" stroke="#00f" stroke-width="1"/>
<line x1="192" y1="36.66" x2="196.4" y2="36.66" stroke="#00f" stroke-width="1.1"/>
<line x1="192" y1="42.31" x2="196.4" y2="42.31" stroke="#00f" stroke-width="1.1"/>
<circle cx="194.2" cy="39.48" r="1.7" fill="#00c" stroke="none" stroke-width="0"/>
<line x1="216.15" y1="33.83" x2="216.15" y2="40.76" stroke="#00f" stroke-width="1"/>
<line x1="213.95" y1="33.83" x2="218.35" y2="33.83" stroke="#00f" stroke-width="1.1"/>
<line x1="213.95" y1="40.76" x2="218.35" y2="40.76" stroke="#00f" stroke-width="1.1"/>
<circle cx="216.15" cy="37.29" r="1.7" fill="#00c" stroke="none" stroke-width="0"/>
<line x1="238.1" y1="32.37" x2="238.1" y2="36.38" stroke="#00f" stroke-width="1"/>
<line x1="235.9" y1="32.37" x2="240.3" y2="32.37" stroke="#00f" stroke-width="1.1"/>
<line x1="235.9" y1="36.38" x2="240.3" y2="36.38" stroke="#00f" stroke-width="1.1"/>
<circle cx="238.1" cy="34.37" r="1.7" fill="#00c" stroke="none" stroke-width="0"/>
<line x1="260.05" y1="31" x2="260.05" y2="37.75" stroke="#00f" stroke-width="1"/>
<line x1="257.85" y1="31" x2="262.25" y2="31" stroke="#00f" stroke-width="1.1"/>
<line x1="257.85" y1="37.75" x2="262.25" y2="37.75" stroke="#00f" stroke-width="1.1"/>
<circle cx="260.05" cy="34.37" r="1.7" fill="#00c" stroke="none" stroke-width="0"/>
<polyline points="150.3,39.85 172.25,42.04 194.2,40.22 216.15,39.3 238.1,39.3 260.05,37.84" fill="none" stroke="#f00" stroke-width="1.3"/>
<circle cx="150.3" cy="39.85" r="1.7" fill="#d00" stroke="none" stroke-width="0"/>
<line x1="172.25" y1="35.83" x2="172.25" y2="48.25" stroke="#f00" stroke-width="1"/>
<line x1="170.05" y1="35.83" x2="174.45" y2="35.83" stroke="#f00" stroke-width="1.1"/>
<line x1="170.05" y1="48.25" x2="174.45" y2="48.25" stroke="#f00" stroke-width="1.1"/>
<circle cx="172.25" cy="42.04" r="1.7" fill="#d00" stroke="none" stroke-width="0"/>
<line x1="194.2" y1="33.1" x2="194.2" y2="47.33" stroke="#f00" stroke-width="1"/>
<line x1="192" y1="33.1" x2="196.4" y2="33.1" stroke="#f00" stroke-width="1.1"/>
<line x1="192" y1="47.33" x2="196.4" y2="47.33" stroke="#f00" stroke-width="1.1"/>
<circle cx="194.2" cy="40.22" r="1.7" fill="#d00" stroke="none" stroke-width="0"/>
<line x1="216.15" y1="31.82" x2="216.15" y2="46.78" stroke="#f00" stroke-width="1"/>
<line x1="213.95" y1="31.82" x2="218.35" y2="31.82" stroke="#f00" stroke-width="1.1"/>
<line x1="213.95" y1="46.78" x2="218.35" y2="46.78" stroke="#f00" stroke-width="1.1"/>
<circle cx="216.15" cy="39.3" r="1.7" fill="#d00" stroke="none" stroke-width="0"/>
<line x1="238.1" y1="32.18" x2="238.1" y2="46.42" stroke="#f00" stroke-width="1"/>
<line x1="235.9" y1="32.18" x2="240.3" y2="32.18" stroke="#f00" stroke-width="1.1"/>
<line x1="235.9" y1="46.42" x2="240.3" y2="46.42" stroke="#f00" stroke-width="1.1"/>
<circle cx="238.1" cy="39.3" r="1.7" fill="#d00" stroke="none" stroke-width="0"/>
<line x1="260.05" y1="32.91" x2="260.05" y2="42.77" stroke="#f00" stroke-width="1"/>
<line x1="257.85" y1="32.91" x2="262.25" y2="32.91" stroke="#f00" stroke-width="1.1"/>
<line x1="257.85" y1="42.77" x2="262.25" y2="42.77" stroke="#f00" stroke-width="1.1"/>
<circle cx="260.05" cy="37.84" r="1.7" fill="#d00" stroke="none" stroke-width="0"/>
<polyline points="150.3,39.85 172.25,40.22 194.2,50.8 216.15,64.67 238.1,74.16 260.05,84.2" fill="none" stroke="#000" stroke-width="1.3"/>
<circle cx="150.3" cy="39.85" r="1.85" fill="#000" stroke="none" stroke-width="0"/>
<line x1="172.25" y1="36.02" x2="172.25" y2="44.41" stroke="#000" stroke-width="1"/>
<line x1="170.05" y1="36.02" x2="174.45" y2="36.02" stroke="#000" stroke-width="1.1"/>
<line x1="170.05" y1="44.41" x2="174.45" y2="44.41" stroke="#000" stroke-width="1.1"/>
<circle cx="172.25" cy="40.22" r="1.85" fill="#000" stroke="none" stroke-width="0"/>
<line x1="194.2" y1="47.52" x2="194.2" y2="54.08" stroke="#000" stroke-width="1"/>
<line x1="192" y1="47.52" x2="196.4" y2="47.52" stroke="#000" stroke-width="1.1"/>
<line x1="192" y1="54.08" x2="196.4" y2="54.08" stroke="#000" stroke-width="1.1"/>
<circle cx="194.2" cy="50.8" r="1.85" fill="#000" stroke="none" stroke-width="0"/>
<line x1="216.15" y1="62.84" x2="216.15" y2="66.49" stroke="#000" stroke-width="1"/>
<line x1="213.95" y1="62.84" x2="218.35" y2="62.84" stroke="#000" stroke-width="1.1"/>
<line x1="213.95" y1="66.49" x2="218.35" y2="66.49" stroke="#000" stroke-width="1.1"/>
<circle cx="216.15" cy="64.67" r="1.85" fill="#000" stroke="none" stroke-width="0"/>
<line x1="238.1" y1="73.25" x2="238.1" y2="75.07" stroke="#000" stroke-width="1"/>
<line x1="235.9" y1="73.25" x2="240.3" y2="73.25" stroke="#000" stroke-width="1.1"/>
<line x1="235.9" y1="75.07" x2="240.3" y2="75.07" stroke="#000" stroke-width="1.1"/>
<circle cx="238.1" cy="74.16" r="1.85" fill="#000" stroke="none" stroke-width="0"/>
<line x1="260.05" y1="82.37" x2="260.05" y2="86.02" stroke="#000" stroke-width="1"/>
<line x1="257.85" y1="82.37" x2="262.25" y2="82.37" stroke="#000" stroke-width="1.1"/>
<line x1="257.85" y1="86.02" x2="262.25" y2="86.02" stroke="#000" stroke-width="1.1"/>
<circle cx="260.05" cy="84.2" r="1.85" fill="#000" stroke="none" stroke-width="0"/>
<text x="194.7" y="61.6" font-size="7.4" text-anchor="middle" fill="#000" font-weight="bold">****</text>
<text x="194.9" y="65.7" font-size="5.6" text-anchor="middle" fill="#000" font-weight="bold" font-style="italic">###</text>
<text x="216.65" y="56.5" font-size="7.4" text-anchor="middle" fill="#000" font-weight="bold">****</text>
<text x="216.85" y="60.3" font-size="5.6" text-anchor="middle" fill="#000" font-weight="bold" font-style="italic">####</text>
<text x="238.6" y="66.1" font-size="7.4" text-anchor="middle" fill="#000" font-weight="bold">****</text>
<text x="238.8" y="70.2" font-size="5.6" text-anchor="middle" fill="#000" font-weight="bold" font-style="italic">####</text>
<text x="260.55" y="75.9" font-size="7.4" text-anchor="middle" fill="#000" font-weight="bold">****</text>
<text x="260.75" y="79.8" font-size="5.6" text-anchor="middle" fill="#000" font-weight="bold" font-style="italic">####</text>
<circle cx="156.6" cy="72.6" r="1.55" fill="#000" stroke="none" stroke-width="0"/>
<text x="161.6" y="75.7" font-size="7.45" text-anchor="start" fill="#000" font-weight="bold">iFLU + Alum</text>
<circle cx="156.6" cy="80.55" r="1.55" fill="#e00" stroke="none" stroke-width="0"/>
<text x="161.6" y="83.65" font-size="7.45" text-anchor="start" fill="#000" font-weight="bold">iCoV2 + Alum</text>
<circle cx="156.6" cy="88.5" r="1.55" fill="#00e" stroke="none" stroke-width="0"/>
<text x="161.6" y="91.6" font-size="7.45" text-anchor="start" fill="#000" font-weight="bold">iCoV2 + RIBI</text>
<rect x="293.4" y="27.6" width="10.2" height="10.9" fill="#0a0a0a" stroke="#333" stroke-width="0.6"/>
<text x="309" y="37.6" font-size="13.2" text-anchor="start" fill="#000" font-weight="bold">5</text>
<rect x="293.4" y="41.85" width="10.2" height="10.9" fill="#7d7d7d" stroke="#333" stroke-width="0.6"/>
<text x="309" y="51.85" font-size="13.2" text-anchor="start" fill="#000" font-weight="bold">4</text>
<rect x="293.4" y="56.1" width="10.2" height="10.9" fill="#8c228f" stroke="#333" stroke-width="0.6"/>
<text x="309" y="66.1" font-size="13.2" text-anchor="start" fill="#000" font-weight="bold">3</text>
<rect x="293.4" y="70.35" width="10.2" height="10.9" fill="#f42a20" stroke="#333" stroke-width="0.6"/>
<text x="309" y="80.35" font-size="13.2" text-anchor="start" fill="#000" font-weight="bold">2</text>
<rect x="293.4" y="84.6" width="10.2" height="10.9" fill="#ff9419" stroke="#333" stroke-width="0.6"/>
<text x="309" y="94.6" font-size="13.2" text-anchor="start" fill="#000" font-weight="bold">1</text>
<rect x="293.4" y="98.85" width="10.2" height="10.9" fill="#1c3cff" stroke="#333" stroke-width="0.6"/>
<text x="309" y="108.85" font-size="13.2" text-anchor="start" fill="#000" font-weight="bold">0</text>
<line x1="358.3" y1="35.3" x2="358.3" y2="89" stroke="#444" stroke-width="1"/>
<line x1="357.8" y1="88.5" x2="438.4" y2="88.5" stroke="#444" stroke-width="1"/>
<line x1="356" y1="88.5" x2="358.3" y2="88.5" stroke="#444" stroke-width="1"/>
<text x="355.7" y="91.3" font-size="7.9" text-anchor="end" fill="#000" font-weight="bold">0</text>
<line x1="356" y1="77.86" x2="358.3" y2="77.86" stroke="#444" stroke-width="1"/>
<text x="355.7" y="80.66" font-size="7.9" text-anchor="end" fill="#000" font-weight="bold">20</text>
<line x1="356" y1="67.22" x2="358.3" y2="67.22" stroke="#444" stroke-width="1"/>
<text x="355.7" y="70.02" font-size="7.9" text-anchor="end" fill="#000" font-weight="bold">40</text>
<line x1="356" y1="56.58" x2="358.3" y2="56.58" stroke="#444" stroke-width="1"/>
<text x="355.7" y="59.38" font-size="7.9" text-anchor="end" fill="#000" font-weight="bold">60</text>
<line x1="356" y1="45.94" x2="358.3" y2="45.94" stroke="#444" stroke-width="1"/>
<text x="355.7" y="48.74" font-size="7.9" text-anchor="end" fill="#000" font-weight="bold">80</text>
<line x1="356" y1="35.3" x2="358.3" y2="35.3" stroke="#444" stroke-width="1"/>
<text x="355.7" y="38.1" font-size="7.9" text-anchor="end" fill="#000" font-weight="bold">100</text>
<rect x="363.1" y="35.3" width="9.8" height="53.2" fill="#0000ff" stroke="none" stroke-width="0"/>
<rect x="363.1" y="35.3" width="9.8" height="53.2" fill="none" stroke="#222" stroke-width="0.5"/>
<line x1="368" y1="88.5" x2="368" y2="90.7" stroke="#555" stroke-width="0.8"/>
<text x="368" y="99.5" font-size="7.9" text-anchor="middle" fill="#000" font-weight="bold">0</text>
<rect x="375.22" y="35.3" width="9.8" height="53.2" fill="#0000ff" stroke="none" stroke-width="0"/>
<rect x="375.22" y="35.3" width="9.8" height="53.2" fill="none" stroke="#222" stroke-width="0.5"/>
<line x1="380.12" y1="88.5" x2="380.12" y2="90.7" stroke="#555" stroke-width="0.8"/>
<text x="380.12" y="99.5" font-size="7.9" text-anchor="middle" fill="#000" font-weight="bold">1</text>
<rect x="387.34" y="84.56" width="9.8" height="3.94" fill="#ff8a00" stroke="none" stroke-width="0"/>
<rect x="387.34" y="35.3" width="9.8" height="49.26" fill="#ff0000" stroke="none" stroke-width="0"/>
<rect x="387.34" y="35.3" width="9.8" height="53.2" fill="none" stroke="#222" stroke-width="0.5"/>
<line x1="392.24" y1="88.5" x2="392.24" y2="90.7" stroke="#555" stroke-width="0.8"/>
<text x="392.24" y="99.5" font-size="7.9" text-anchor="middle" fill="#000" font-weight="bold">2</text>
<rect x="399.46" y="35.3" width="9.8" height="53.2" fill="#ff0000" stroke="none" stroke-width="0"/>
<rect x="399.46" y="35.3" width="9.8" height="53.2" fill="none" stroke="#222" stroke-width="0.5"/>
<line x1="404.36" y1="88.5" x2="404.36" y2="90.7" stroke="#555" stroke-width="0.8"/>
<text x="404.36" y="99.5" font-size="7.9" text-anchor="middle" fill="#000" font-weight="bold">3</text>
<rect x="411.58" y="70.78" width="9.8" height="17.72" fill="#ff0000" stroke="none" stroke-width="0"/>
<rect x="411.58" y="44.18" width="9.8" height="26.6" fill="#800080" stroke="none" stroke-width="0"/>
<rect x="411.58" y="35.3" width="9.8" height="8.88" fill="#000" stroke="none" stroke-width="0"/>
<rect x="411.58" y="35.3" width="9.8" height="53.2" fill="none" stroke="#222" stroke-width="0.5"/>
<line x1="416.48" y1="88.5" x2="416.48" y2="90.7" stroke="#555" stroke-width="0.8"/>
<text x="416.48" y="99.5" font-size="7.9" text-anchor="middle" fill="#000" font-weight="bold">4</text>
<rect x="423.7" y="70.78" width="9.8" height="17.72" fill="#ff0000" stroke="none" stroke-width="0"/>
<rect x="423.7" y="44.18" width="9.8" height="26.6" fill="#800080" stroke="none" stroke-width="0"/>
<rect x="423.7" y="35.3" width="9.8" height="8.88" fill="#000" stroke="none" stroke-width="0"/>
<rect x="423.7" y="35.3" width="9.8" height="53.2" fill="none" stroke="#222" stroke-width="0.5"/>
<line x1="428.6" y1="88.5" x2="428.6" y2="90.7" stroke="#555" stroke-width="0.8"/>
<text x="428.6" y="99.5" font-size="7.9" text-anchor="middle" fill="#000" font-weight="bold">5</text>
<text x="398.3" y="22.5" font-size="8.3" text-anchor="middle" fill="#000" font-weight="bold">iFLU + Alum</text>
<text x="398.4" y="110.3" font-size="8.1" text-anchor="middle" fill="#000" font-weight="bold">Days Post Infection</text>
<text x="336.2" y="59.3" font-size="8" text-anchor="middle" fill="#000" font-weight="bold" transform="rotate(-90 336.2 59.3)">Percentage of Mice</text>
<line x1="481.8" y1="35.5" x2="481.8" y2="88.9" stroke="#444" stroke-width="1"/>
<line x1="481.3" y1="88.4" x2="560.5" y2="88.4" stroke="#444" stroke-width="1"/>
<line x1="479.5" y1="88.4" x2="481.8" y2="88.4" stroke="#444" stroke-width="1"/>
<text x="479.2" y="91.2" font-size="7.9" text-anchor="end" fill="#000" font-weight="bold">0</text>
<line x1="479.5" y1="77.82" x2="481.8" y2="77.82" stroke="#444" stroke-width="1"/>
<text x="479.2" y="80.62" font-size="7.9" text-anchor="end" fill="#000" font-weight="bold">20</text>
<line x1="479.5" y1="67.24" x2="481.8" y2="67.24" stroke="#444" stroke-width="1"/>
<text x="479.2" y="70.04" font-size="7.9" text-anchor="end" fill="#000" font-weight="bold">40</text>
<line x1="479.5" y1="56.66" x2="481.8" y2="56.66" stroke="#444" stroke-width="1"/>
<text x="479.2" y="59.46" font-size="7.9" text-anchor="end" fill="#000" font-weight="bold">60</text>
<line x1="479.5" y1="46.08" x2="481.8" y2="46.08" stroke="#444" stroke-width="1"/>
<text x="479.2" y="48.88" font-size="7.9" text-anchor="end" fill="#000" font-weight="bold">80</text>
<line x1="479.5" y1="35.5" x2="481.8" y2="35.5" stroke="#444" stroke-width="1"/>
<text x="479.2" y="38.3" font-size="7.9" text-anchor="end" fill="#000" font-weight="bold">100</text>
<rect x="486.1" y="35.5" width="9.8" height="52.9" fill="#0000ff" stroke="none" stroke-width="0"/>
<rect x="486.1" y="35.5" width="9.8" height="52.9" fill="none" stroke="#222" stroke-width="0.5"/>
<line x1="491" y1="88.4" x2="491" y2="90.6" stroke="#555" stroke-width="0.8"/>
<text x="491" y="99.4" font-size="7.9" text-anchor="middle" fill="#000" font-weight="bold">0</text>
<rect x="498.22" y="38.14" width="9.8" height="50.26" fill="#0000ff" stroke="none" stroke-width="0"/>
<rect x="498.22" y="35.5" width="9.8" height="2.64" fill="#ff8a00" stroke="none" stroke-width="0"/>
<rect x="498.22" y="35.5" width="9.8" height="52.9" fill="none" stroke="#222" stroke-width="0.5"/>
<line x1="503.12" y1="88.4" x2="503.12" y2="90.6" stroke="#555" stroke-width="0.8"/>
<text x="503.12" y="99.4" font-size="7.9" text-anchor="middle" fill="#000" font-weight="bold">1</text>
<rect x="510.34" y="43.7" width="9.8" height="44.7" fill="#0000ff" stroke="none" stroke-width="0"/>
<rect x="510.34" y="35.5" width="9.8" height="8.2" fill="#ff8a00" stroke="none" stroke-width="0"/>
<rect x="510.34" y="35.5" width="9.8" height="52.9" fill="none" stroke="#222" stroke-width="0.5"/>
<line x1="515.24" y1="88.4" x2="515.24" y2="90.6" stroke="#555" stroke-width="0.8"/>
<text x="515.24" y="99.4" font-size="7.9" text-anchor="middle" fill="#000" font-weight="bold">2</text>
<rect x="522.46" y="41.05" width="9.8" height="47.35" fill="#0000ff" stroke="none" stroke-width="0"/>
<rect x="522.46" y="35.5" width="9.8" height="5.55" fill="#ff8a00" stroke="none" stroke-width="0"/>
<rect x="522.46" y="35.5" width="9.8" height="52.9" fill="none" stroke="#222" stroke-width="0.5"/>
<line x1="527.36" y1="88.4" x2="527.36" y2="90.6" stroke="#555" stroke-width="0.8"/>
<text x="527.36" y="99.4" font-size="7.9" text-anchor="middle" fill="#000" font-weight="bold">3</text>
<rect x="534.58" y="39.73" width="9.8" height="48.67" fill="#0000ff" stroke="none" stroke-width="0"/>
<rect x="534.58" y="35.5" width="9.8" height="4.23" fill="#ff8a00" stroke="none" stroke-width="0"/>
<rect x="534.58" y="35.5" width="9.8" height="52.9" fill="none" stroke="#222" stroke-width="0.5"/>
<line x1="539.48" y1="88.4" x2="539.48" y2="90.6" stroke="#555" stroke-width="0.8"/>
<text x="539.48" y="99.4" font-size="7.9" text-anchor="middle" fill="#000" font-weight="bold">4</text>
<rect x="546.7" y="39.73" width="9.8" height="48.67" fill="#0000ff" stroke="none" stroke-width="0"/>
<rect x="546.7" y="35.5" width="9.8" height="4.23" fill="#ff8a00" stroke="none" stroke-width="0"/>
<rect x="546.7" y="35.5" width="9.8" height="52.9" fill="none" stroke="#222" stroke-width="0.5"/>
<line x1="551.6" y1="88.4" x2="551.6" y2="90.6" stroke="#555" stroke-width="0.8"/>
<text x="551.6" y="99.4" font-size="7.9" text-anchor="middle" fill="#000" font-weight="bold">5</text>
<text x="521.3" y="22.4" font-size="8.3" text-anchor="middle" fill="#000" font-weight="bold">iCoV2 + Alum</text>
<text x="521.3" y="110.2" font-size="8.1" text-anchor="middle" fill="#000" font-weight="bold">Days Post Infection</text>
<text x="461.1" y="59" font-size="8" text-anchor="middle" fill="#000" font-weight="bold" transform="rotate(-90 461.1 59)">Percentage of Mice</text>
<line x1="605" y1="34.2" x2="605" y2="87.5" stroke="#aaa" stroke-width="1.4"/>
<line x1="604.5" y1="87" x2="683.5" y2="87" stroke="#aaa" stroke-width="1.4"/>
<line x1="602.7" y1="87" x2="605" y2="87" stroke="#444" stroke-width="1"/>
<text x="602.4" y="89.8" font-size="7.9" text-anchor="end" fill="#000" font-weight="bold">0</text>
<line x1="602.7" y1="76.44" x2="605" y2="76.44" stroke="#444" stroke-width="1"/>
<text x="602.4" y="79.24" font-size="7.9" text-anchor="end" fill="#000" font-weight="bold">20</text>
<line x1="602.7" y1="65.88" x2="605" y2="65.88" stroke="#444" stroke-width="1"/>
<text x="602.4" y="68.68" font-size="7.9" text-anchor="end" fill="#000" font-weight="bold">40</text>
<line x1="602.7" y1="55.32" x2="605" y2="55.32" stroke="#444" stroke-width="1"/>
<text x="602.4" y="58.12" font-size="7.9" text-anchor="end" fill="#000" font-weight="bold">60</text>
<line x1="602.7" y1="44.76" x2="605" y2="44.76" stroke="#444" stroke-width="1"/>
<text x="602.4" y="47.56" font-size="7.9" text-anchor="end" fill="#000" font-weight="bold">80</text>
<line x1="602.7" y1="34.2" x2="605" y2="34.2" stroke="#444" stroke-width="1"/>
<text x="602.4" y="37" font-size="7.9" text-anchor="end" fill="#000" font-weight="bold">100</text>
<rect x="609.7" y="34.2" width="9.8" height="52.8" fill="#0000ff" stroke="none" stroke-width="0"/>
<rect x="609.7" y="34.2" width="9.8" height="52.8" fill="none" stroke="#222" stroke-width="0.5"/>
<line x1="614.6" y1="87" x2="614.6" y2="89.2" stroke="#555" stroke-width="0.8"/>
<text x="614.6" y="98" font-size="7.9" text-anchor="middle" fill="#000" font-weight="bold">0</text>
<rect x="621.82" y="34.2" width="9.8" height="52.8" fill="#0000ff" stroke="none" stroke-width="0"/>
<rect x="621.82" y="34.2" width="9.8" height="52.8" fill="none" stroke="#222" stroke-width="0.5"/>
<line x1="626.72" y1="87" x2="626.72" y2="89.2" stroke="#555" stroke-width="0.8"/>
<text x="626.72" y="98" font-size="7.9" text-anchor="middle" fill="#000" font-weight="bold">1</text>
<rect x="633.94" y="34.2" width="9.8" height="52.8" fill="#0000ff" stroke="none" stroke-width="0"/>
<rect x="633.94" y="34.2" width="9.8" height="52.8" fill="none" stroke="#222" stroke-width="0.5"/>
<line x1="638.84" y1="87" x2="638.84" y2="89.2" stroke="#555" stroke-width="0.8"/>
<text x="638.84" y="98" font-size="7.9" text-anchor="middle" fill="#000" font-weight="bold">2</text>
<rect x="646.06" y="34.2" width="9.8" height="52.8" fill="#0000ff" stroke="none" stroke-width="0"/>
<rect x="646.06" y="34.2" width="9.8" height="52.8" fill="none" stroke="#222" stroke-width="0.5"/>
<line x1="650.96" y1="87" x2="650.96" y2="89.2" stroke="#555" stroke-width="0.8"/>
<text x="650.96" y="98" font-size="7.9" text-anchor="middle" fill="#000" font-weight="bold">3</text>
<rect x="658.18" y="34.2" width="9.8" height="52.8" fill="#0000ff" stroke="none" stroke-width="0"/>
<rect x="658.18" y="34.2" width="9.8" height="52.8" fill="none" stroke="#222" stroke-width="0.5"/>
<line x1="663.08" y1="87" x2="663.08" y2="89.2" stroke="#555" stroke-width="0.8"/>
<text x="663.08" y="98" font-size="7.9" text-anchor="middle" fill="#000" font-weight="bold">4</text>
<rect x="670.3" y="34.2" width="9.8" height="52.8" fill="#0000ff" stroke="none" stroke-width="0"/>
<rect x="670.3" y="34.2" width="9.8" height="52.8" fill="none" stroke="#222" stroke-width="0.5"/>
<line x1="675.2" y1="87" x2="675.2" y2="89.2" stroke="#555" stroke-width="0.8"/>
<text x="675.2" y="98" font-size="7.9" text-anchor="middle" fill="#000" font-weight="bold">5</text>
<text x="644.7" y="20.9" font-size="8.3" text-anchor="middle" fill="#000" font-weight="bold">iCoV2 + RIBI</text>
<text x="645" y="108.8" font-size="8.1" text-anchor="middle" fill="#000" font-weight="bold">Days Post Infection</text>
<text x="583" y="57.9" font-size="8" text-anchor="middle" fill="#000" font-weight="bold" transform="rotate(-90 583 57.9)">Percentage of Mice</text>
<line x1="141.4" y1="169.48" x2="141.4" y2="243.9" stroke="#3a3a3a" stroke-width="1.2"/>
<line x1="140.9" y1="243.4" x2="221.8" y2="243.4" stroke="#3a3a3a" stroke-width="1.2"/>
<line x1="138.8" y1="243.4" x2="141.4" y2="243.4" stroke="#444" stroke-width="0.9"/>
<text x="137.8" y="246.46" font-size="8.5" text-anchor="end" fill="#000" font-weight="bold">0</text>
<line x1="138.8" y1="231.08" x2="141.4" y2="231.08" stroke="#444" stroke-width="0.9"/>
<text x="137.8" y="234.14" font-size="8.5" text-anchor="end" fill="#000" font-weight="bold">1</text>
<line x1="138.8" y1="218.76" x2="141.4" y2="218.76" stroke="#444" stroke-width="0.9"/>
<text x="137.8" y="221.82" font-size="8.5" text-anchor="end" fill="#000" font-weight="bold">2</text>
<line x1="138.8" y1="206.44" x2="141.4" y2="206.44" stroke="#444" stroke-width="0.9"/>
<text x="137.8" y="209.5" font-size="8.5" text-anchor="end" fill="#000" font-weight="bold">3</text>
<line x1="138.8" y1="194.12" x2="141.4" y2="194.12" stroke="#444" stroke-width="0.9"/>
<text x="137.8" y="197.18" font-size="8.5" text-anchor="end" fill="#000" font-weight="bold">4</text>
<line x1="138.8" y1="181.8" x2="141.4" y2="181.8" stroke="#444" stroke-width="0.9"/>
<text x="137.8" y="184.86" font-size="8.5" text-anchor="end" fill="#000" font-weight="bold">5</text>
<line x1="138.8" y1="169.48" x2="141.4" y2="169.48" stroke="#444" stroke-width="0.9"/>
<text x="137.8" y="172.54" font-size="8.5" text-anchor="end" fill="#000" font-weight="bold">6</text>
<line x1="159.2" y1="243.4" x2="159.2" y2="245.7" stroke="#555" stroke-width="0.9"/>
<line x1="185.3" y1="243.4" x2="185.3" y2="245.7" stroke="#555" stroke-width="0.9"/>
<line x1="211.3" y1="243.4" x2="211.3" y2="245.7" stroke="#555" stroke-width="0.9"/>
<text x="159.2" y="253" font-size="7.6" text-anchor="middle" fill="#000" font-weight="bold">iFLU</text>
<text x="159.2" y="262.2" font-size="7.6" text-anchor="middle" fill="#000" font-weight="bold">+</text>
<text x="159.2" y="271.1" font-size="7.6" text-anchor="middle" fill="#000" font-weight="bold">Alum</text>
<text x="185.3" y="253" font-size="7.6" text-anchor="middle" fill="#000" font-weight="bold">iCoV2</text>
<text x="185.3" y="262.2" font-size="7.6" text-anchor="middle" fill="#000" font-weight="bold">+</text>
<text x="185.3" y="271.1" font-size="7.6" text-anchor="middle" fill="#000" font-weight="bold">Alum</text>
<text x="211.3" y="253" font-size="7.6" text-anchor="middle" fill="#000" font-weight="bold">iCoV2</text>
<text x="211.3" y="262.2" font-size="7.6" text-anchor="middle" fill="#000" font-weight="bold">+</text>
<text x="211.3" y="271.1" font-size="7.6" text-anchor="middle" fill="#000" font-weight="bold">RIBI</text>
<text x="0" y="0" font-size="10" font-weight="bold" text-anchor="middle" transform="translate(122.8 203.6) rotate(-90)">Log<tspan font-size="7.0" dy="1.7">10</tspan><tspan dy="-1.7"> pfu</tspan></text>
<line x1="139.6" y1="230.4" x2="221.8" y2="230.4" stroke="#555" stroke-width="0.8" stroke-dasharray="3.2 1.2"/>
<line x1="148.8" y1="177.49" x2="169.6" y2="177.49" stroke="#111" stroke-width="1.2"/>
<line x1="159.2" y1="171.33" x2="159.2" y2="183.65" stroke="#111" stroke-width="1"/>
<line x1="154.8" y1="171.33" x2="163.6" y2="171.33" stroke="#111" stroke-width="1.1"/>
<line x1="154.8" y1="183.65" x2="163.6" y2="183.65" stroke="#111" stroke-width="1.1"/>
<circle cx="159.2" cy="175.02" r="1.95" fill="#000" stroke="none" stroke-width="0"/>
<circle cx="152.6" cy="181.8" r="1.95" fill="#000" stroke="none" stroke-width="0"/>
<circle cx="159.2" cy="181.8" r="1.95" fill="#000" stroke="none" stroke-width="0"/>
<circle cx="165.9" cy="181.8" r="1.95" fill="#000" stroke="none" stroke-width="0"/>
<line x1="174.1" y1="234" x2="195.8" y2="234" stroke="#f33" stroke-width="1.2"/>
<circle cx="176.6" cy="234" r="1.55" fill="#e20a0a" stroke="#9a0000" stroke-width="0.35"/>
<circle cx="179" cy="234" r="1.55" fill="#e20a0a" stroke="#9a0000" stroke-width="0.35"/>
<circle cx="181.4" cy="234" r="1.55" fill="#e20a0a" stroke="#9a0000" stroke-width="0.35"/>
<circle cx="183.8" cy="234" r="1.55" fill="#e20a0a" stroke="#9a0000" stroke-width="0.35"/>
<circle cx="186.2" cy="234" r="1.55" fill="#e20a0a" stroke="#9a0000" stroke-width="0.35"/>
<circle cx="188.6" cy="234" r="1.55" fill="#e20a0a" stroke="#9a0000" stroke-width="0.35"/>
<circle cx="191" cy="234" r="1.55" fill="#e20a0a" stroke="#9a0000" stroke-width="0.35"/>
<circle cx="193.4" cy="234" r="1.55" fill="#e20a0a" stroke="#9a0000" stroke-width="0.35"/>
<line x1="200.4" y1="232.8" x2="221.9" y2="232.8" stroke="#33f" stroke-width="0.9"/>
<line x1="200.4" y1="235.2" x2="221.9" y2="235.2" stroke="#33f" stroke-width="0.9"/>
<line x1="203" y1="234" x2="219" y2="234" stroke="#22f" stroke-width="1"/>
<circle cx="203.9" cy="234" r="1.8" fill="#0a0ae6" stroke="#000090" stroke-width="0.35"/>
<circle cx="211" cy="230.2" r="1.8" fill="#0a0ae6" stroke="#000090" stroke-width="0.35"/>
<circle cx="211" cy="234" r="1.8" fill="#0a0ae6" stroke="#000090" stroke-width="0.35"/>
<circle cx="217.9" cy="234" r="1.8" fill="#0a0ae6" stroke="#000090" stroke-width="0.35"/>
<line x1="159.2" y1="150.8" x2="211.1" y2="150.8" stroke="#7c7c7c" stroke-width="1.25"/>
<text x="185.15" y="147.9" font-size="5.9" text-anchor="middle" fill="#000" font-weight="bold">0.0287</text>
<line x1="159.2" y1="163.5" x2="184.1" y2="163.5" stroke="#7c7c7c" stroke-width="1.25"/>
<text x="171.65" y="160.6" font-size="5.9" text-anchor="middle" fill="#000" font-weight="bold">0.0008</text>
<line x1="186.3" y1="163.5" x2="211.1" y2="163.5" stroke="#7c7c7c" stroke-width="1.25"/>
<text x="198.7" y="160.6" font-size="5.9" text-anchor="middle" fill="#000" font-weight="bold">&gt;0.9999</text>
<line x1="300.6" y1="166.6" x2="300.6" y2="243.1" stroke="#2a2a2a" stroke-width="1.1"/>
<line x1="300.1" y1="242.6" x2="382.9" y2="242.6" stroke="#2a2a2a" stroke-width="1.1"/>
<line x1="298" y1="242.6" x2="300.6" y2="242.6" stroke="#444" stroke-width="0.9"/>
<text x="297" y="245.66" font-size="8.5" text-anchor="end" fill="#000" font-weight="bold">0.0</text>
<line x1="298" y1="227.4" x2="300.6" y2="227.4" stroke="#444" stroke-width="0.9"/>
<text x="297" y="230.46" font-size="8.5" text-anchor="end" fill="#000" font-weight="bold">0.2</text>
<line x1="298" y1="212.2" x2="300.6" y2="212.2" stroke="#444" stroke-width="0.9"/>
<text x="297" y="215.26" font-size="8.5" text-anchor="end" fill="#000" font-weight="bold">0.4</text>
<line x1="298" y1="197" x2="300.6" y2="197" stroke="#444" stroke-width="0.9"/>
<text x="297" y="200.06" font-size="8.5" text-anchor="end" fill="#000" font-weight="bold">0.6</text>
<line x1="298" y1="181.8" x2="300.6" y2="181.8" stroke="#444" stroke-width="0.9"/>
<text x="297" y="184.86" font-size="8.5" text-anchor="end" fill="#000" font-weight="bold">0.8</text>
<line x1="298" y1="166.6" x2="300.6" y2="166.6" stroke="#444" stroke-width="0.9"/>
<text x="297" y="169.66" font-size="8.5" text-anchor="end" fill="#000" font-weight="bold">1.0</text>
<line x1="318.6" y1="242.6" x2="318.6" y2="244.9" stroke="#555" stroke-width="0.9"/>
<line x1="344.9" y1="242.6" x2="344.9" y2="244.9" stroke="#555" stroke-width="0.9"/>
<line x1="371.3" y1="242.6" x2="371.3" y2="244.9" stroke="#555" stroke-width="0.9"/>
<text x="318.6" y="253" font-size="7.6" text-anchor="middle" fill="#000" font-weight="bold">iFLU</text>
<text x="318.6" y="262.2" font-size="7.6" text-anchor="middle" fill="#000" font-weight="bold">+</text>
<text x="318.6" y="271.1" font-size="7.6" text-anchor="middle" fill="#000" font-weight="bold">Alum</text>
<text x="344.9" y="253" font-size="7.6" text-anchor="middle" fill="#000" font-weight="bold">iCoV2</text>
<text x="344.9" y="262.2" font-size="7.6" text-anchor="middle" fill="#000" font-weight="bold">+</text>
<text x="344.9" y="271.1" font-size="7.6" text-anchor="middle" fill="#000" font-weight="bold">Alum</text>
<text x="371.3" y="253" font-size="7.6" text-anchor="middle" fill="#000" font-weight="bold">iCoV2</text>
<text x="371.3" y="262.2" font-size="7.6" text-anchor="middle" fill="#000" font-weight="bold">+</text>
<text x="371.3" y="271.1" font-size="7.6" text-anchor="middle" fill="#000" font-weight="bold">RIBI</text>
<text x="277.1" y="201.4" font-size="9.2" text-anchor="middle" fill="#000" font-weight="bold" transform="rotate(-90 277.1 201.4)">ALI Score</text>
<line x1="307.6" y1="190.16" x2="329.6" y2="190.16" stroke="#111" stroke-width="1.2"/>
<line x1="318.6" y1="183.32" x2="318.6" y2="197" stroke="#111" stroke-width="1"/>
<line x1="313.9" y1="183.32" x2="323.3" y2="183.32" stroke="#111" stroke-width="1.1"/>
<line x1="313.9" y1="197" x2="323.3" y2="197" stroke="#111" stroke-width="1.1"/>
<circle cx="318.6" cy="179.52" r="1.95" fill="#000" stroke="none" stroke-width="0"/>
<circle cx="314" cy="189.4" r="1.95" fill="#000" stroke="none" stroke-width="0"/>
<circle cx="323.6" cy="188.64" r="1.95" fill="#000" stroke="none" stroke-width="0"/>
<circle cx="318.6" cy="193.2" r="1.95" fill="#000" stroke="none" stroke-width="0"/>
<circle cx="318.6" cy="198.52" r="1.95" fill="#000" stroke="none" stroke-width="0"/>
<line x1="334.3" y1="216.76" x2="355.5" y2="216.76" stroke="#f22" stroke-width="1.2"/>
<line x1="344.9" y1="206.12" x2="344.9" y2="228.92" stroke="#f22" stroke-width="1"/>
<line x1="340.2" y1="206.12" x2="349.6" y2="206.12" stroke="#f22" stroke-width="1.1"/>
<line x1="340.2" y1="228.92" x2="349.6" y2="228.92" stroke="#f22" stroke-width="1.1"/>
<circle cx="344.9" cy="195.48" r="1.95" fill="#e20a0a" stroke="#9a0000" stroke-width="0.35"/>
<circle cx="344.9" cy="200.04" r="1.95" fill="#e20a0a" stroke="#9a0000" stroke-width="0.35"/>
<circle cx="344.9" cy="208.4" r="1.95" fill="#e20a0a" stroke="#9a0000" stroke-width="0.35"/>
<circle cx="337.8" cy="215.24" r="1.95" fill="#e20a0a" stroke="#9a0000" stroke-width="0.35"/>
<circle cx="344.9" cy="214.48" r="1.95" fill="#e20a0a" stroke="#9a0000" stroke-width="0.35"/>
<circle cx="351.2" cy="216" r="1.95" fill="#e20a0a" stroke="#9a0000" stroke-width="0.35"/>
<circle cx="344.9" cy="221.32" r="1.95" fill="#e20a0a" stroke="#9a0000" stroke-width="0.35"/>
<circle cx="351.2" cy="223.6" r="1.95" fill="#e20a0a" stroke="#9a0000" stroke-width="0.35"/>
<circle cx="337.8" cy="225.12" r="1.95" fill="#e20a0a" stroke="#9a0000" stroke-width="0.35"/>
<circle cx="341.6" cy="231.96" r="1.95" fill="#e20a0a" stroke="#9a0000" stroke-width="0.35"/>
<circle cx="348.4" cy="231.96" r="1.95" fill="#e20a0a" stroke="#9a0000" stroke-width="0.35"/>
<circle cx="352.1" cy="228.92" r="1.95" fill="#e20a0a" stroke="#9a0000" stroke-width="0.35"/>
<line x1="360.4" y1="231.96" x2="382.5" y2="231.96" stroke="#22f" stroke-width="1.2"/>
<circle cx="364.5" cy="231.96" r="1.8" fill="#0a0ae6" stroke="#000090" stroke-width="0.35"/>
<circle cx="368.9" cy="230.82" r="1.8" fill="#0a0ae6" stroke="#000090" stroke-width="0.35"/>
<circle cx="373.8" cy="231.96" r="1.8" fill="#0a0ae6" stroke="#000090" stroke-width="0.35"/>
<circle cx="378.4" cy="231.96" r="1.8" fill="#0a0ae6" stroke="#000090" stroke-width="0.35"/>
<line x1="318.6" y1="151.5" x2="371.9" y2="151.5" stroke="#7c7c7c" stroke-width="1.25"/>
<text x="345.25" y="148" font-size="5.9" text-anchor="middle" fill="#000" font-weight="bold">0.0008</text>
<line x1="318.6" y1="165" x2="344" y2="165" stroke="#7c7c7c" stroke-width="1.25"/>
<text x="331.3" y="161.7" font-size="5.9" text-anchor="middle" fill="#000" font-weight="bold">0.0255</text>
<line x1="345.5" y1="165" x2="371.9" y2="165" stroke="#7c7c7c" stroke-width="1.25"/>
<text x="358.7" y="161.7" font-size="5.9" text-anchor="middle" fill="#000" font-weight="bold">0.2142</text>
<line x1="459.7" y1="164.3" x2="459.7" y2="242" stroke="#888" stroke-width="1.3"/>
<line x1="459.2" y1="241.5" x2="550.5" y2="241.5" stroke="#888" stroke-width="1.3"/>
<line x1="457.1" y1="241.5" x2="459.7" y2="241.5" stroke="#444" stroke-width="0.9"/>
<text x="456.1" y="244.56" font-size="8.5" text-anchor="end" fill="#000" font-weight="bold">0</text>
<line x1="457.1" y1="222.2" x2="459.7" y2="222.2" stroke="#444" stroke-width="0.9"/>
<text x="456.1" y="225.26" font-size="8.5" text-anchor="end" fill="#000" font-weight="bold">1</text>
<line x1="457.1" y1="202.9" x2="459.7" y2="202.9" stroke="#444" stroke-width="0.9"/>
<text x="456.1" y="205.96" font-size="8.5" text-anchor="end" fill="#000" font-weight="bold">2</text>
<line x1="457.1" y1="183.6" x2="459.7" y2="183.6" stroke="#444" stroke-width="0.9"/>
<text x="456.1" y="186.66" font-size="8.5" text-anchor="end" fill="#000" font-weight="bold">3</text>
<line x1="457.1" y1="164.3" x2="459.7" y2="164.3" stroke="#444" stroke-width="0.9"/>
<text x="456.1" y="167.36" font-size="8.5" text-anchor="end" fill="#000" font-weight="bold">4</text>
<line x1="478" y1="241.5" x2="478" y2="243.8" stroke="#555" stroke-width="0.9"/>
<line x1="505.3" y1="241.5" x2="505.3" y2="243.8" stroke="#555" stroke-width="0.9"/>
<line x1="532.6" y1="241.5" x2="532.6" y2="243.8" stroke="#555" stroke-width="0.9"/>
<text x="478" y="253" font-size="7.6" text-anchor="middle" fill="#000" font-weight="bold">iFLU</text>
<text x="478" y="262.2" font-size="7.6" text-anchor="middle" fill="#000" font-weight="bold">+</text>
<text x="478" y="271.1" font-size="7.6" text-anchor="middle" fill="#000" font-weight="bold">Alum</text>
<text x="505.3" y="253" font-size="7.6" text-anchor="middle" fill="#000" font-weight="bold">iCoV2</text>
<text x="505.3" y="262.2" font-size="7.6" text-anchor="middle" fill="#000" font-weight="bold">+</text>
<text x="505.3" y="271.1" font-size="7.6" text-anchor="middle" fill="#000" font-weight="bold">Alum</text>
<text x="532.6" y="253" font-size="7.6" text-anchor="middle" fill="#000" font-weight="bold">iCoV2</text>
<text x="532.6" y="262.2" font-size="7.6" text-anchor="middle" fill="#000" font-weight="bold">+</text>
<text x="532.6" y="271.1" font-size="7.6" text-anchor="middle" fill="#000" font-weight="bold">RIBI</text>
<text x="443.9" y="199.6" font-size="9.3" text-anchor="middle" fill="#000" font-weight="bold" transform="rotate(-90 443.9 199.6)">DAD Score</text>
<line x1="467" y1="181.28" x2="489" y2="181.28" stroke="#111" stroke-width="1.2"/>
<line x1="478" y1="175.49" x2="478" y2="186.5" stroke="#111" stroke-width="1"/>
<line x1="473.3" y1="175.49" x2="482.7" y2="175.49" stroke="#111" stroke-width="1.1"/>
<line x1="473.3" y1="186.5" x2="482.7" y2="186.5" stroke="#111" stroke-width="1.1"/>
<circle cx="478" cy="170.48" r="1.95" fill="#000" stroke="none" stroke-width="0"/>
<circle cx="471" cy="183.6" r="1.95" fill="#000" stroke="none" stroke-width="0"/>
<circle cx="475.6" cy="183.6" r="1.95" fill="#000" stroke="none" stroke-width="0"/>
<circle cx="480.6" cy="183.6" r="1.95" fill="#000" stroke="none" stroke-width="0"/>
<circle cx="485.4" cy="183.6" r="1.95" fill="#000" stroke="none" stroke-width="0"/>
<circle cx="505.3" cy="189.78" r="1.95" fill="#e20a0a" stroke="#9a0000" stroke-width="0.35"/>
<circle cx="505.3" cy="196.14" r="1.95" fill="#e20a0a" stroke="#9a0000" stroke-width="0.35"/>
<circle cx="502.6" cy="202.9" r="1.95" fill="#e20a0a" stroke="#9a0000" stroke-width="0.35"/>
<circle cx="508" cy="202.9" r="1.95" fill="#e20a0a" stroke="#9a0000" stroke-width="0.35"/>
<circle cx="505.3" cy="209.27" r="1.95" fill="#e20a0a" stroke="#9a0000" stroke-width="0.35"/>
<circle cx="503.3" cy="216.22" r="1.95" fill="#e20a0a" stroke="#9a0000" stroke-width="0.35"/>
<circle cx="507.3" cy="216.22" r="1.95" fill="#e20a0a" stroke="#9a0000" stroke-width="0.35"/>
<circle cx="497.4" cy="222.2" r="1.95" fill="#e20a0a" stroke="#9a0000" stroke-width="0.35"/>
<circle cx="501.4" cy="222.2" r="1.95" fill="#e20a0a" stroke="#9a0000" stroke-width="0.35"/>
<circle cx="505" cy="222.2" r="1.95" fill="#e20a0a" stroke="#9a0000" stroke-width="0.35"/>
<circle cx="508.6" cy="222.2" r="1.95" fill="#e20a0a" stroke="#9a0000" stroke-width="0.35"/>
<circle cx="512.1" cy="222.2" r="1.95" fill="#e20a0a" stroke="#9a0000" stroke-width="0.35"/>
<line x1="494.1" y1="212.55" x2="516.5" y2="212.55" stroke="#f22" stroke-width="1.2"/>
<line x1="505.3" y1="200.58" x2="505.3" y2="223.16" stroke="#f22" stroke-width="1"/>
<line x1="500.6" y1="200.58" x2="510" y2="200.58" stroke="#f22" stroke-width="1.1"/>
<line x1="500.6" y1="223.16" x2="510" y2="223.16" stroke="#f22" stroke-width="1.1"/>
<circle cx="525.3" cy="222.2" r="1.85" fill="#0a0ae6" stroke="#000090" stroke-width="0.35"/>
<circle cx="529.9" cy="222.2" r="1.85" fill="#0a0ae6" stroke="#000090" stroke-width="0.35"/>
<circle cx="534.9" cy="222.2" r="1.85" fill="#0a0ae6" stroke="#000090" stroke-width="0.35"/>
<circle cx="539.7" cy="222.2" r="1.85" fill="#0a0ae6" stroke="#000090" stroke-width="0.35"/>
<line x1="521.1" y1="222.2" x2="543.7" y2="222.2" stroke="#22f" stroke-width="1.1"/>
<line x1="478" y1="151.5" x2="532.7" y2="151.5" stroke="#7c7c7c" stroke-width="1.25"/>
<text x="505.35" y="148" font-size="5.9" text-anchor="middle" fill="#000" font-weight="bold">0.0013</text>
<line x1="478" y1="165" x2="504.2" y2="165" stroke="#7c7c7c" stroke-width="1.25"/>
<text x="491.1" y="161.7" font-size="5.9" text-anchor="middle" fill="#000" font-weight="bold">0.0094</text>
<line x1="506" y1="165" x2="532.7" y2="165" stroke="#7c7c7c" stroke-width="1.25"/>
<text x="519.35" y="161.7" font-size="5.9" text-anchor="middle" fill="#000" font-weight="bold">0.5192</text>
<line x1="520" y1="309.7" x2="520" y2="371.5" stroke="#444" stroke-width="1"/>
<line x1="519.5" y1="371" x2="581.4" y2="371" stroke="#444" stroke-width="1"/>
<line x1="518" y1="371.3" x2="520" y2="371.3" stroke="#444" stroke-width="0.9"/>
<text x="517" y="373.39" font-size="5.8" text-anchor="end" fill="#000" font-weight="bold">0</text>
<line x1="518" y1="358.98" x2="520" y2="358.98" stroke="#444" stroke-width="0.9"/>
<text x="517" y="361.07" font-size="5.8" text-anchor="end" fill="#000" font-weight="bold">100</text>
<line x1="518" y1="346.66" x2="520" y2="346.66" stroke="#444" stroke-width="0.9"/>
<text x="517" y="348.75" font-size="5.8" text-anchor="end" fill="#000" font-weight="bold">200</text>
<line x1="518" y1="334.34" x2="520" y2="334.34" stroke="#444" stroke-width="0.9"/>
<text x="517" y="336.43" font-size="5.8" text-anchor="end" fill="#000" font-weight="bold">300</text>
<line x1="518" y1="322.02" x2="520" y2="322.02" stroke="#444" stroke-width="0.9"/>
<text x="517" y="324.11" font-size="5.8" text-anchor="end" fill="#000" font-weight="bold">400</text>
<line x1="518" y1="309.7" x2="520" y2="309.7" stroke="#444" stroke-width="0.9"/>
<text x="517" y="311.79" font-size="5.8" text-anchor="end" fill="#000" font-weight="bold">500</text>
<line x1="532.6" y1="371" x2="532.6" y2="373.3" stroke="#555" stroke-width="0.9"/>
<line x1="550.6" y1="371" x2="550.6" y2="373.3" stroke="#555" stroke-width="0.9"/>
<line x1="569" y1="371" x2="569" y2="373.3" stroke="#555" stroke-width="0.9"/>
<text x="532.6" y="378.1" font-size="5.1" text-anchor="middle" fill="#000" font-weight="bold">iFLU</text>
<text x="532.6" y="384.4" font-size="5.1" text-anchor="middle" fill="#000" font-weight="bold">+</text>
<text x="532.6" y="390.2" font-size="5.1" text-anchor="middle" fill="#000" font-weight="bold">Alum</text>
<text x="550.6" y="378.1" font-size="5.1" text-anchor="middle" fill="#000" font-weight="bold">iCoV2</text>
<text x="550.6" y="384.4" font-size="5.1" text-anchor="middle" fill="#000" font-weight="bold">+</text>
<text x="550.6" y="390.2" font-size="5.1" text-anchor="middle" fill="#000" font-weight="bold">Alum</text>
<text x="569" y="378.1" font-size="5.1" text-anchor="middle" fill="#000" font-weight="bold">iCoV2</text>
<text x="569" y="384.4" font-size="5.1" text-anchor="middle" fill="#000" font-weight="bold">+</text>
<text x="569" y="390.2" font-size="5.1" text-anchor="middle" fill="#000" font-weight="bold">RIBI</text>
<line x1="519.5" y1="371" x2="581.4" y2="371" stroke="#999" stroke-width="1.4"/>
<text x="0" y="0" font-size="6.4" font-weight="bold" text-anchor="middle" transform="translate(502.0 337.4) rotate(-90)">EPX<tspan font-size="4.2" dy="-2.5">+</tspan><tspan dy="2.5"> Cells per mm</tspan><tspan font-size="4.2" dy="-2.5">2</tspan></text>
<line x1="525.4" y1="368.3" x2="539.6" y2="368.3" stroke="#111" stroke-width="1"/>
<line x1="530" y1="367" x2="535.5" y2="367" stroke="#111" stroke-width="0.8"/>
<circle cx="526.5" cy="368.4" r="1.25" fill="#000" stroke="none" stroke-width="0"/>
<circle cx="529.2" cy="368.4" r="1.25" fill="#000" stroke="none" stroke-width="0"/>
<circle cx="532.6" cy="368.4" r="1.25" fill="#000" stroke="none" stroke-width="0"/>
<circle cx="535.5" cy="368.4" r="1.25" fill="#000" stroke="none" stroke-width="0"/>
<circle cx="538.4" cy="368.4" r="1.25" fill="#000" stroke="none" stroke-width="0"/>
<circle cx="532.6" cy="367.2" r="1.2" fill="#000" stroke="none" stroke-width="0"/>
<line x1="542.8" y1="360.46" x2="558.4" y2="360.46" stroke="#f33" stroke-width="1.1"/>
<line x1="550.6" y1="351.83" x2="550.6" y2="368.59" stroke="#f33" stroke-width="1"/>
<line x1="547.6" y1="351.83" x2="553.6" y2="351.83" stroke="#f33" stroke-width="1.1"/>
<line x1="547.6" y1="368.59" x2="553.6" y2="368.59" stroke="#f33" stroke-width="1.1"/>
<circle cx="550.6" cy="346.66" r="1.45" fill="#e20a0a" stroke="#9a0000" stroke-width="0.3"/>
<circle cx="550.6" cy="354.54" r="1.45" fill="#e20a0a" stroke="#9a0000" stroke-width="0.3"/>
<circle cx="545.6" cy="357.5" r="1.45" fill="#e20a0a" stroke="#9a0000" stroke-width="0.3"/>
<circle cx="555.8" cy="356.15" r="1.45" fill="#e20a0a" stroke="#9a0000" stroke-width="0.3"/>
<circle cx="550.6" cy="360.46" r="1.45" fill="#e20a0a" stroke="#9a0000" stroke-width="0.3"/>
<circle cx="546" cy="370.07" r="1.45" fill="#e20a0a" stroke="#9a0000" stroke-width="0.3"/>
<circle cx="550.6" cy="368.59" r="1.45" fill="#e20a0a" stroke="#9a0000" stroke-width="0.3"/>
<circle cx="555.8" cy="370.07" r="1.45" fill="#e20a0a" stroke="#9a0000" stroke-width="0.3"/>
<line x1="561.8" y1="370.8" x2="577.3" y2="370.8" stroke="#22f" stroke-width="1"/>
<circle cx="564" cy="370.3" r="1.2" fill="#0a0ae6" stroke="none" stroke-width="0"/>
<circle cx="566.6" cy="370.3" r="1.2" fill="#0a0ae6" stroke="none" stroke-width="0"/>
<circle cx="569.2" cy="370.3" r="1.2" fill="#0a0ae6" stroke="none" stroke-width="0"/>
<circle cx="571.8" cy="370.3" r="1.2" fill="#0a0ae6" stroke="none" stroke-width="0"/>
<circle cx="574.6" cy="370.3" r="1.2" fill="#0a0ae6" stroke="none" stroke-width="0"/>
<circle cx="569.2" cy="369.2" r="1.2" fill="#0a0ae6" stroke="none" stroke-width="0"/>
<line x1="532.4" y1="298.7" x2="568.8" y2="298.7" stroke="#7c7c7c" stroke-width="1.25"/>
<text x="550.6" y="296.8" font-size="4.3" text-anchor="middle" fill="#000" font-weight="bold">0.3553</text>
<line x1="532.4" y1="307.3" x2="550" y2="307.3" stroke="#7c7c7c" stroke-width="1.25"/>
<text x="541.2" y="305.3" font-size="4.3" text-anchor="middle" fill="#000" font-weight="bold">&gt;0.9999</text>
<line x1="551.3" y1="307.3" x2="568.8" y2="307.3" stroke="#7c7c7c" stroke-width="1.25"/>
<text x="560.05" y="305.3" font-size="4.3" text-anchor="middle" fill="#000" font-weight="bold">0.0212</text>
<text x="134.9" y="293.4" font-size="12" text-anchor="middle" fill="#000" font-weight="bold">iFLU + Alum</text>
<text x="265.3" y="293.4" font-size="12" text-anchor="middle" fill="#000" font-weight="bold">iCoV2 + Alum</text>
<text x="395.4" y="293.4" font-size="12" text-anchor="middle" fill="#000" font-weight="bold">iCoV2 + RIBI</text>
</svg>
</body></html>
